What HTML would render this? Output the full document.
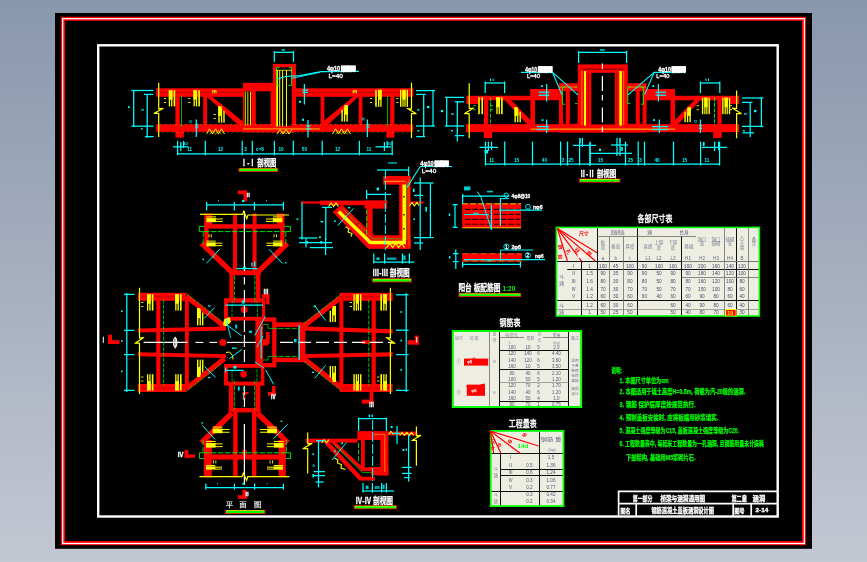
<!DOCTYPE html>
<html lang="zh"><head><meta charset="utf-8"><title>钢筋混凝土盖板涵洞设计图</title>
<style>
html,body{margin:0;padding:0;width:867px;height:562px;overflow:hidden;background:#a5afc1}
svg{display:block;will-change:transform;font-family:"Liberation Sans","Noto Sans CJK SC",sans-serif}
</style></head><body>
<svg width="867" height="562" viewBox="0 0 867 562">
<defs><linearGradient id="bg" x1="0" y1="0" x2="0" y2="1"><stop offset="0" stop-color="#8997ad"/><stop offset="1" stop-color="#c3c7d2"/></linearGradient></defs>
<rect x="0" y="0" width="867" height="562" fill="url(#bg)"/>
<rect x="55" y="13" width="757" height="535.8" fill="#000000"/>
<rect x="63" y="18.8" width="741.05" height="524.35" fill="none" stroke="#ff0000" stroke-width="4.1"/>
<rect x="62.7" y="18.7" width="741.7" height="524.8" fill="none" stroke="#ffffff" stroke-width="1.25"/>
<rect x="98.2" y="45.3" width="679.5" height="471.2" fill="none" stroke="#ffffff" stroke-width="2.4"/>
<g id="sec1">
<rect x="156.2" y="88.3" width="257.1" height="8.5" fill="#ff0000"/>
<rect x="156.2" y="124.4" width="257.1" height="7.4" fill="#ff0000"/>
<rect x="175.4" y="96" width="4.4" height="37" fill="#ff0000"/>
<rect x="175.4" y="131" width="8.4" height="6.6" fill="#ff0000"/>
<rect x="203.2" y="96" width="3.8" height="29" fill="#ff0000"/>
<rect x="358.6" y="96" width="3.8" height="29" fill="#ff0000"/>
<rect x="390.2" y="96" width="4.2" height="37" fill="#ff0000"/>
<rect x="386.4" y="131" width="8" height="6.6" fill="#ff0000"/>
<rect x="320.6" y="96" width="3.8" height="29" fill="#ff0000"/>
<polygon points="206.5,96.6 212,96.6 243,121.5 243,124.8 238,124.8" fill="#ff0000"/>
<polygon points="358.8,96.6 353.5,96.6 324,120.5 324,124.8 328,124.8" fill="#ff0000"/>
<line x1="157" y1="92.5" x2="243" y2="92.5" stroke="#000" stroke-width="0.8" opacity="0.28"/>
<line x1="296" y1="92.5" x2="413" y2="92.5" stroke="#000" stroke-width="0.8" opacity="0.28"/>
<rect x="243" y="82.8" width="30.5" height="49.6" fill="#ff0000"/>
<rect x="244.2" y="91.3" width="7.1" height="33" fill="#000"/>
<rect x="255.8" y="91.3" width="14.8" height="33" fill="#000"/>
<rect x="244.8" y="91.5" width="0.9" height="34" fill="#ffff00"/>
<rect x="247.4" y="91.5" width="0.9" height="34" fill="#ffff00"/>
<rect x="250" y="91.5" width="0.9" height="34" fill="#ffff00"/>
<rect x="273" y="64" width="23" height="68.4" fill="#ff0000"/>
<rect x="276" y="67.4" width="15.8" height="58.4" fill="#000"/>
<rect x="276.2" y="70.5" width="1.8" height="56" fill="#ffff00"/>
<rect x="279.2" y="70.5" width="1" height="56" fill="#ffff00"/>
<rect x="282.1" y="70.5" width="1" height="56" fill="#ffff00"/>
<rect x="286" y="70.5" width="1" height="56" fill="#ffff00"/>
<polyline points="279.5,67.6 276.6,67.6 276.6,85.5 279,85.5" fill="none" stroke="#00ff00" stroke-width="0.9"/>
<polyline points="289,67.6 291.6,67.6 291.6,85.5 288.5,85.5" fill="none" stroke="#00ff00" stroke-width="0.9"/>
<rect x="275.5" y="69.8" width="16.5" height="0.8" fill="#ffff00"/>
<rect x="243" y="128.2" width="77" height="1.4" fill="#ff8000"/>
<polyline points="206.5,134 209.5,128.8 212.5,134 215.5,128.8 218.5,134 221.5,128.8 224.5,134" fill="none" stroke="#ffff00" stroke-width="1"/>
<polyline points="209.5,134 212.5,131.14 215.5,134 218.5,131.14 221.5,134" fill="none" stroke="#ffff00" stroke-width="0.8" opacity="0.8"/>
<polyline points="332.5,134 335.5,128.8 338.5,134 341.5,128.8 344.5,134 347.5,128.8 350.5,134" fill="none" stroke="#ffff00" stroke-width="1"/>
<polyline points="335.5,134 338.5,131.14 341.5,134 344.5,131.14 347.5,134" fill="none" stroke="#ffff00" stroke-width="0.8" opacity="0.8"/>
<polyline points="277,134 280,129.4 283,134 286,129.4 289,134 292,129.4" fill="none" stroke="#ffff00" stroke-width="1"/>
<polyline points="280,134 283,131.47 286,134 289,131.47" fill="none" stroke="#ffff00" stroke-width="0.8" opacity="0.8"/>
<rect x="160" y="124.1" width="1.6" height="0.7" fill="#ffb000" opacity="0.55"/>
<rect x="162" y="132" width="1.6" height="0.7" fill="#ffb000" opacity="0.45"/>
<rect x="165" y="124.1" width="1.6" height="0.7" fill="#ffb000" opacity="0.55"/>
<rect x="167" y="132" width="1.6" height="0.7" fill="#ffb000" opacity="0.45"/>
<rect x="170" y="124.1" width="1.6" height="0.7" fill="#ffb000" opacity="0.55"/>
<rect x="172" y="132" width="1.6" height="0.7" fill="#ffb000" opacity="0.45"/>
<rect x="175" y="124.1" width="1.6" height="0.7" fill="#ffb000" opacity="0.55"/>
<rect x="177" y="132" width="1.6" height="0.7" fill="#ffb000" opacity="0.45"/>
<rect x="180" y="124.1" width="1.6" height="0.7" fill="#ffb000" opacity="0.55"/>
<rect x="182" y="132" width="1.6" height="0.7" fill="#ffb000" opacity="0.45"/>
<rect x="185" y="124.1" width="1.6" height="0.7" fill="#ffb000" opacity="0.55"/>
<rect x="187" y="132" width="1.6" height="0.7" fill="#ffb000" opacity="0.45"/>
<rect x="190" y="124.1" width="1.6" height="0.7" fill="#ffb000" opacity="0.55"/>
<rect x="192" y="132" width="1.6" height="0.7" fill="#ffb000" opacity="0.45"/>
<rect x="195" y="124.1" width="1.6" height="0.7" fill="#ffb000" opacity="0.55"/>
<rect x="197" y="132" width="1.6" height="0.7" fill="#ffb000" opacity="0.45"/>
<rect x="200" y="124.1" width="1.6" height="0.7" fill="#ffb000" opacity="0.55"/>
<rect x="202" y="132" width="1.6" height="0.7" fill="#ffb000" opacity="0.45"/>
<rect x="205" y="124.1" width="1.6" height="0.7" fill="#ffb000" opacity="0.55"/>
<rect x="207" y="132" width="1.6" height="0.7" fill="#ffb000" opacity="0.45"/>
<rect x="210" y="124.1" width="1.6" height="0.7" fill="#ffb000" opacity="0.55"/>
<rect x="212" y="132" width="1.6" height="0.7" fill="#ffb000" opacity="0.45"/>
<rect x="215" y="124.1" width="1.6" height="0.7" fill="#ffb000" opacity="0.55"/>
<rect x="217" y="132" width="1.6" height="0.7" fill="#ffb000" opacity="0.45"/>
<rect x="220" y="124.1" width="1.6" height="0.7" fill="#ffb000" opacity="0.55"/>
<rect x="222" y="132" width="1.6" height="0.7" fill="#ffb000" opacity="0.45"/>
<rect x="225" y="124.1" width="1.6" height="0.7" fill="#ffb000" opacity="0.55"/>
<rect x="227" y="132" width="1.6" height="0.7" fill="#ffb000" opacity="0.45"/>
<rect x="230" y="124.1" width="1.6" height="0.7" fill="#ffb000" opacity="0.55"/>
<rect x="232" y="132" width="1.6" height="0.7" fill="#ffb000" opacity="0.45"/>
<rect x="235" y="124.1" width="1.6" height="0.7" fill="#ffb000" opacity="0.55"/>
<rect x="237" y="132" width="1.6" height="0.7" fill="#ffb000" opacity="0.45"/>
<rect x="240" y="124.1" width="1.6" height="0.7" fill="#ffb000" opacity="0.55"/>
<rect x="242" y="132" width="1.6" height="0.7" fill="#ffb000" opacity="0.45"/>
<rect x="245" y="124.1" width="1.6" height="0.7" fill="#ffb000" opacity="0.55"/>
<rect x="247" y="132" width="1.6" height="0.7" fill="#ffb000" opacity="0.45"/>
<rect x="250" y="124.1" width="1.6" height="0.7" fill="#ffb000" opacity="0.55"/>
<rect x="252" y="132" width="1.6" height="0.7" fill="#ffb000" opacity="0.45"/>
<rect x="255" y="124.1" width="1.6" height="0.7" fill="#ffb000" opacity="0.55"/>
<rect x="257" y="132" width="1.6" height="0.7" fill="#ffb000" opacity="0.45"/>
<rect x="260" y="124.1" width="1.6" height="0.7" fill="#ffb000" opacity="0.55"/>
<rect x="262" y="132" width="1.6" height="0.7" fill="#ffb000" opacity="0.45"/>
<rect x="265" y="124.1" width="1.6" height="0.7" fill="#ffb000" opacity="0.55"/>
<rect x="267" y="132" width="1.6" height="0.7" fill="#ffb000" opacity="0.45"/>
<rect x="270" y="124.1" width="1.6" height="0.7" fill="#ffb000" opacity="0.55"/>
<rect x="272" y="132" width="1.6" height="0.7" fill="#ffb000" opacity="0.45"/>
<rect x="275" y="124.1" width="1.6" height="0.7" fill="#ffb000" opacity="0.55"/>
<rect x="277" y="132" width="1.6" height="0.7" fill="#ffb000" opacity="0.45"/>
<rect x="280" y="124.1" width="1.6" height="0.7" fill="#ffb000" opacity="0.55"/>
<rect x="282" y="132" width="1.6" height="0.7" fill="#ffb000" opacity="0.45"/>
<rect x="285" y="124.1" width="1.6" height="0.7" fill="#ffb000" opacity="0.55"/>
<rect x="287" y="132" width="1.6" height="0.7" fill="#ffb000" opacity="0.45"/>
<rect x="290" y="124.1" width="1.6" height="0.7" fill="#ffb000" opacity="0.55"/>
<rect x="292" y="132" width="1.6" height="0.7" fill="#ffb000" opacity="0.45"/>
<rect x="295" y="124.1" width="1.6" height="0.7" fill="#ffb000" opacity="0.55"/>
<rect x="297" y="132" width="1.6" height="0.7" fill="#ffb000" opacity="0.45"/>
<rect x="300" y="124.1" width="1.6" height="0.7" fill="#ffb000" opacity="0.55"/>
<rect x="302" y="132" width="1.6" height="0.7" fill="#ffb000" opacity="0.45"/>
<rect x="305" y="124.1" width="1.6" height="0.7" fill="#ffb000" opacity="0.55"/>
<rect x="307" y="132" width="1.6" height="0.7" fill="#ffb000" opacity="0.45"/>
<rect x="310" y="124.1" width="1.6" height="0.7" fill="#ffb000" opacity="0.55"/>
<rect x="312" y="132" width="1.6" height="0.7" fill="#ffb000" opacity="0.45"/>
<rect x="315" y="124.1" width="1.6" height="0.7" fill="#ffb000" opacity="0.55"/>
<rect x="317" y="132" width="1.6" height="0.7" fill="#ffb000" opacity="0.45"/>
<rect x="320" y="124.1" width="1.6" height="0.7" fill="#ffb000" opacity="0.55"/>
<rect x="322" y="132" width="1.6" height="0.7" fill="#ffb000" opacity="0.45"/>
<rect x="325" y="124.1" width="1.6" height="0.7" fill="#ffb000" opacity="0.55"/>
<rect x="327" y="132" width="1.6" height="0.7" fill="#ffb000" opacity="0.45"/>
<rect x="330" y="124.1" width="1.6" height="0.7" fill="#ffb000" opacity="0.55"/>
<rect x="332" y="132" width="1.6" height="0.7" fill="#ffb000" opacity="0.45"/>
<rect x="335" y="124.1" width="1.6" height="0.7" fill="#ffb000" opacity="0.55"/>
<rect x="337" y="132" width="1.6" height="0.7" fill="#ffb000" opacity="0.45"/>
<rect x="340" y="124.1" width="1.6" height="0.7" fill="#ffb000" opacity="0.55"/>
<rect x="342" y="132" width="1.6" height="0.7" fill="#ffb000" opacity="0.45"/>
<rect x="345" y="124.1" width="1.6" height="0.7" fill="#ffb000" opacity="0.55"/>
<rect x="347" y="132" width="1.6" height="0.7" fill="#ffb000" opacity="0.45"/>
<rect x="350" y="124.1" width="1.6" height="0.7" fill="#ffb000" opacity="0.55"/>
<rect x="352" y="132" width="1.6" height="0.7" fill="#ffb000" opacity="0.45"/>
<rect x="355" y="124.1" width="1.6" height="0.7" fill="#ffb000" opacity="0.55"/>
<rect x="357" y="132" width="1.6" height="0.7" fill="#ffb000" opacity="0.45"/>
<rect x="360" y="124.1" width="1.6" height="0.7" fill="#ffb000" opacity="0.55"/>
<rect x="362" y="132" width="1.6" height="0.7" fill="#ffb000" opacity="0.45"/>
<rect x="365" y="124.1" width="1.6" height="0.7" fill="#ffb000" opacity="0.55"/>
<rect x="367" y="132" width="1.6" height="0.7" fill="#ffb000" opacity="0.45"/>
<rect x="370" y="124.1" width="1.6" height="0.7" fill="#ffb000" opacity="0.55"/>
<rect x="372" y="132" width="1.6" height="0.7" fill="#ffb000" opacity="0.45"/>
<rect x="375" y="124.1" width="1.6" height="0.7" fill="#ffb000" opacity="0.55"/>
<rect x="377" y="132" width="1.6" height="0.7" fill="#ffb000" opacity="0.45"/>
<rect x="380" y="124.1" width="1.6" height="0.7" fill="#ffb000" opacity="0.55"/>
<rect x="382" y="132" width="1.6" height="0.7" fill="#ffb000" opacity="0.45"/>
<rect x="385" y="124.1" width="1.6" height="0.7" fill="#ffb000" opacity="0.55"/>
<rect x="387" y="132" width="1.6" height="0.7" fill="#ffb000" opacity="0.45"/>
<rect x="390" y="124.1" width="1.6" height="0.7" fill="#ffb000" opacity="0.55"/>
<rect x="392" y="132" width="1.6" height="0.7" fill="#ffb000" opacity="0.45"/>
<rect x="395" y="124.1" width="1.6" height="0.7" fill="#ffb000" opacity="0.55"/>
<rect x="397" y="132" width="1.6" height="0.7" fill="#ffb000" opacity="0.45"/>
<rect x="400" y="124.1" width="1.6" height="0.7" fill="#ffb000" opacity="0.55"/>
<rect x="402" y="132" width="1.6" height="0.7" fill="#ffb000" opacity="0.45"/>
<rect x="405" y="124.1" width="1.6" height="0.7" fill="#ffb000" opacity="0.55"/>
<rect x="407" y="132" width="1.6" height="0.7" fill="#ffb000" opacity="0.45"/>
<polyline points="158.7,82.8 158.7,108.9 163,108.4 154.19,113.3 158.7,113.3 158.7,137" fill="none" stroke="#ffff00" stroke-width="1.2" stroke-linejoin="round"/>
<polyline points="411.5,82.8 411.5,109.1 407.2,108.6 416.01,113.6 411.5,113.6 411.5,138" fill="none" stroke="#ffff00" stroke-width="1.2" stroke-linejoin="round"/>
<rect x="168.8" y="90.2" width="3.6" height="9.4" fill="#ffff00"/>
<rect x="168.8" y="90.2" width="1.3" height="16.2" fill="#ffff00"/>
<rect x="171.1" y="90.2" width="1.3" height="16.2" fill="#ffff00"/>
<rect x="173.6" y="90.2" width="1.6" height="16.2" fill="#ffff00"/>
<rect x="193.5" y="90.2" width="3.6" height="9.4" fill="#ffff00"/>
<rect x="193.5" y="90.2" width="1.3" height="16.2" fill="#ffff00"/>
<rect x="195.8" y="90.2" width="1.3" height="16.2" fill="#ffff00"/>
<rect x="198.3" y="90.2" width="1.6" height="16.2" fill="#ffff00"/>
<rect x="218.3" y="106.3" width="3.4" height="9.51" fill="#ffff00"/>
<rect x="218.3" y="106.3" width="1.4" height="16.4" fill="#ffff00"/>
<rect x="220.9" y="108.3" width="1.3" height="14.4" fill="#ffff00"/>
<rect x="223.3" y="110.9" width="1.4" height="11.8" fill="#ffff00"/>
<rect x="378" y="89.8" width="3.6" height="9.86" fill="#ffff00"/>
<rect x="380.3" y="89.8" width="1.3" height="17" fill="#ffff00"/>
<rect x="378" y="89.8" width="1.3" height="17" fill="#ffff00"/>
<rect x="375.2" y="89.8" width="1.6" height="17" fill="#ffff00"/>
<rect x="406.6" y="89.8" width="1.4" height="17" fill="#ffff00"/>
<rect x="402.4" y="89.8" width="3.2" height="9.86" fill="#ffff00"/>
<rect x="404.4" y="89.8" width="1.2" height="17" fill="#ffff00"/>
<rect x="402.4" y="89.8" width="1.2" height="17" fill="#ffff00"/>
<rect x="400" y="89.8" width="1.4" height="17" fill="#ffff00"/>
<rect x="344.4" y="105" width="3.4" height="9.63" fill="#ffff00"/>
<rect x="346.4" y="105" width="1.4" height="16.6" fill="#ffff00"/>
<rect x="343.9" y="107" width="1.3" height="14.6" fill="#ffff00"/>
<rect x="341.4" y="109.6" width="1.4" height="12" fill="#ffff00"/>
<rect x="164" y="98" width="2.2" height="0.9" fill="#ffff00"/>
<rect x="164" y="102" width="2.2" height="0.9" fill="#ffff00"/>
<rect x="188.2" y="98" width="2.2" height="0.9" fill="#ffff00"/>
<rect x="188.2" y="102" width="2.2" height="0.9" fill="#ffff00"/>
<rect x="213.5" y="114" width="2.2" height="0.9" fill="#ffff00"/>
<rect x="213.5" y="118" width="2.2" height="0.9" fill="#ffff00"/>
<rect x="370" y="98" width="2.2" height="0.9" fill="#ffff00"/>
<rect x="370" y="102" width="2.2" height="0.9" fill="#ffff00"/>
<rect x="396.2" y="98" width="2.2" height="0.9" fill="#ffff00"/>
<rect x="396.2" y="102" width="2.2" height="0.9" fill="#ffff00"/>
<rect x="212.3" y="90.3" width="4.1" height="1.1" fill="#ffff00"/>
<rect x="212.3" y="91" width="0.8" height="2.6" fill="#ffff00"/>
<rect x="214" y="91" width="0.8" height="2.2" fill="#ffff00"/>
<rect x="215.6" y="91" width="0.8" height="2.6" fill="#ffff00"/>
<rect x="352.7" y="90.3" width="4.3" height="1.1" fill="#ffff00"/>
<rect x="352.7" y="91" width="0.8" height="2.6" fill="#ffff00"/>
<rect x="354.5" y="91" width="0.8" height="2.2" fill="#ffff00"/>
<rect x="356.2" y="91" width="0.8" height="2.6" fill="#ffff00"/>
<line x1="181.5" y1="95.5" x2="181.5" y2="126.5" stroke="#00d000" stroke-width="0.9"/>
<line x1="387.6" y1="95.5" x2="387.6" y2="126.5" stroke="#00d000" stroke-width="0.9"/>
<line x1="133.7" y1="90.2" x2="133.7" y2="126.6" stroke="#00ffff" stroke-width="1.25"/>
<line x1="131.3" y1="90.5" x2="153.5" y2="90.5" stroke="#00ffff" stroke-width="1.25"/>
<line x1="131.3" y1="126.2" x2="153.5" y2="126.2" stroke="#00ffff" stroke-width="1.25"/>
<line x1="147.2" y1="94" x2="147.2" y2="138" stroke="#00ffff" stroke-width="1.25"/>
<line x1="144" y1="94.4" x2="153" y2="94.4" stroke="#00ffff" stroke-width="1.25"/>
<line x1="145" y1="136.6" x2="153.6" y2="136.6" stroke="#00ffff" stroke-width="1.25"/>
<rect x="128" y="106.2" width="1.8" height="1.8" fill="#00ffff"/>
<rect x="141.2" y="109.3" width="2.6" height="1.2" fill="#00ffff"/>
<rect x="141" y="128" width="1.6" height="1.4" fill="#00ffff"/>
<line x1="433" y1="90.2" x2="433" y2="126.6" stroke="#00ffff" stroke-width="1.25"/>
<line x1="416" y1="90.6" x2="435" y2="90.6" stroke="#00ffff" stroke-width="1.25"/>
<line x1="416" y1="126" x2="435" y2="126" stroke="#00ffff" stroke-width="1.25"/>
<line x1="423.7" y1="94" x2="423.7" y2="136.8" stroke="#00ffff" stroke-width="1.25"/>
<line x1="416.2" y1="94.4" x2="425.6" y2="94.4" stroke="#00ffff" stroke-width="1.25"/>
<line x1="416.2" y1="136.6" x2="425" y2="136.6" stroke="#00ffff" stroke-width="1.25"/>
<rect x="427" y="106" width="2.4" height="2.2" fill="#00ffff"/>
<rect x="417" y="109.3" width="2.6" height="1.2" fill="#00ffff"/>
<rect x="417.5" y="130" width="1.8" height="1.4" fill="#00ffff"/>
<line x1="274.3" y1="51" x2="274.3" y2="62" stroke="#00ffff" stroke-width="1.25"/>
<line x1="293.5" y1="51" x2="293.5" y2="62" stroke="#00ffff" stroke-width="1.25"/>
<line x1="274.3" y1="52.3" x2="293.5" y2="52.3" stroke="#00ffff" stroke-width="1.25"/>
<rect x="281.8" y="49.3" width="3" height="1.3" fill="#00ffff"/>
<line x1="177.4" y1="153.8" x2="392.6" y2="153.8" stroke="#00ffff" stroke-width="1.25"/>
<line x1="177.6" y1="140.8" x2="177.6" y2="155.3" stroke="#00ffff" stroke-width="1.25"/>
<line x1="205.3" y1="140.8" x2="205.3" y2="155.3" stroke="#00ffff" stroke-width="1.25"/>
<line x1="242.2" y1="140.8" x2="242.2" y2="155.3" stroke="#00ffff" stroke-width="1.25"/>
<line x1="252.3" y1="140.8" x2="252.3" y2="155.3" stroke="#00ffff" stroke-width="1.25"/>
<line x1="274.4" y1="140.8" x2="274.4" y2="155.3" stroke="#00ffff" stroke-width="1.25"/>
<line x1="293.3" y1="140.8" x2="293.3" y2="155.3" stroke="#00ffff" stroke-width="1.25"/>
<line x1="322.2" y1="140.8" x2="322.2" y2="155.3" stroke="#00ffff" stroke-width="1.25"/>
<line x1="359.4" y1="140.8" x2="359.4" y2="155.3" stroke="#00ffff" stroke-width="1.25"/>
<line x1="392.2" y1="140.8" x2="392.2" y2="155.3" stroke="#00ffff" stroke-width="1.25"/>
<line x1="173" y1="146.8" x2="188.5" y2="146.8" stroke="#00ffff" stroke-width="1.25"/>
<line x1="180.8" y1="142" x2="180.8" y2="151" stroke="#00ffff" stroke-width="1.25"/>
<line x1="183.6" y1="141" x2="183.6" y2="148" stroke="#00ffff" stroke-width="1.25"/>
<line x1="375.5" y1="146.8" x2="391" y2="146.8" stroke="#00ffff" stroke-width="1.25"/>
<line x1="384.4" y1="142" x2="384.4" y2="151" stroke="#00ffff" stroke-width="1.25"/>
<line x1="387.2" y1="141" x2="387.2" y2="148" stroke="#00ffff" stroke-width="1.25"/>
<text x="189.6" y="151.4" font-size="4.6" fill="#00ffff" text-anchor="middle" font-weight="bold">11</text>
<text x="220.6" y="151.4" font-size="4.6" fill="#00ffff" text-anchor="middle" font-weight="bold">12</text>
<text x="245.6" y="151.4" font-size="4.6" fill="#00ffff" text-anchor="middle" font-weight="bold">3</text>
<text x="260" y="151.4" font-size="4.6" fill="#00ffff" text-anchor="middle" font-weight="bold">c=8</text>
<text x="281" y="151.4" font-size="4.6" fill="#00ffff" text-anchor="middle" font-weight="bold">10</text>
<text x="304.4" y="151.4" font-size="4.6" fill="#00ffff" text-anchor="middle" font-weight="bold">50</text>
<text x="337.6" y="151.4" font-size="4.6" fill="#00ffff" text-anchor="middle" font-weight="bold">12</text>
<text x="369" y="151.4" font-size="4.6" fill="#00ffff" text-anchor="middle" font-weight="bold">11</text>
<text x="185.6" y="145" font-size="4.2" fill="#00ffff" text-anchor="middle" font-weight="bold">10</text>
<text x="389.4" y="145" font-size="4.2" fill="#00ffff" text-anchor="middle" font-weight="bold">10</text>
<line x1="196.3" y1="119.5" x2="196.3" y2="137" stroke="#00ffff" stroke-width="1.25"/>
<line x1="195.4" y1="124.6" x2="198.2" y2="124.6" stroke="#00ffff" stroke-width="1.25"/>
<line x1="195.4" y1="127" x2="198.2" y2="127" stroke="#00ffff" stroke-width="1.25"/>
<circle cx="190.5" cy="121.6" r="1.1" fill="none" stroke="#00ffff" stroke-width="0.7"/>
<line x1="304.4" y1="84" x2="304.4" y2="104.5" stroke="#00ffff" stroke-width="1.25"/>
<line x1="302.5" y1="90" x2="308" y2="90" stroke="#00ffff" stroke-width="1.25"/>
<line x1="302.5" y1="92.4" x2="308" y2="92.4" stroke="#00ffff" stroke-width="1.25"/>
<rect x="299" y="100.8" width="2" height="2" fill="#00ffff"/>
<line x1="308" y1="120" x2="308" y2="137.5" stroke="#00ffff" stroke-width="1.25"/>
<line x1="306.5" y1="126" x2="310.5" y2="126" stroke="#00ffff" stroke-width="1.25"/>
<line x1="306.5" y1="129" x2="310.5" y2="129" stroke="#00ffff" stroke-width="1.25"/>
<rect x="302" y="118.8" width="2" height="2" fill="#00ffff"/>
<line x1="367.4" y1="119.5" x2="367.4" y2="137" stroke="#00ffff" stroke-width="1.25"/>
<line x1="366.5" y1="124.6" x2="369.3" y2="124.6" stroke="#00ffff" stroke-width="1.25"/>
<line x1="366.5" y1="127" x2="369.3" y2="127" stroke="#00ffff" stroke-width="1.25"/>
<circle cx="363.2" cy="119" r="1.1" fill="none" stroke="#00ffff" stroke-width="0.7"/>
<polyline points="276.8,79.2 285.5,76.5 300,75.6 321,71.6 359,71.4" fill="none" stroke="#00ffff" stroke-width="1.1"/>
<polyline points="291.8,78.4 300,76.6 320,72.4" fill="none" stroke="#00ffff" stroke-width="0.9"/>
<text x="326.9" y="71.1" font-size="6.4" fill="#ffffff" textLength="13.3" lengthAdjust="spacingAndGlyphs" font-weight="bold" stroke="#fff" stroke-width="0.3">4φ10</text>
<rect x="340.8" y="65.5" width="15" height="6.3" fill="#ffffff" opacity="0.93"/>
<text x="341" y="71.1" font-size="5.4" fill="#ffffff" textLength="14.6" lengthAdjust="spacingAndGlyphs" font-weight="bold" stroke="#fff" stroke-width="0.3">钢筋网</text>
<text x="328.5" y="77.9" font-size="6.2" fill="#ffffff" textLength="14.4" lengthAdjust="spacingAndGlyphs" stroke="#fff" stroke-width="0.3">L=40</text>
<text x="240.8" y="166.4" font-size="9" fill="#ffffff" textLength="35.6" lengthAdjust="spacingAndGlyphs" font-weight="bold" stroke="#fff" stroke-width="0.3">Ⅰ-Ⅰ 剖视图</text>
<rect x="238.4" y="168.3" width="39.8" height="3.7" fill="#ff0000"/>
<rect x="239.4" y="168.9" width="38" height="2.3" fill="#00ff00"/>
<rect x="239.4" y="168.6" width="38" height="0.6" fill="#ffff00"/>
</g>
<g id="sec2">
<rect x="466.3" y="95.8" width="272.7" height="4.5" fill="#ff0000"/>
<rect x="466.3" y="100" width="12.1" height="4" fill="#ff0000"/>
<rect x="729" y="100" width="10" height="4" fill="#ff0000"/>
<rect x="466" y="124.2" width="273" height="8" fill="#ff0000"/>
<rect x="530.2" y="89" width="144.8" height="8" fill="#ff0000"/>
<rect x="484" y="100" width="4.3" height="33" fill="#ff0000"/>
<rect x="484" y="132" width="8" height="6" fill="#ff0000"/>
<rect x="530.4" y="96" width="4.6" height="29" fill="#ff0000"/>
<rect x="670.4" y="96" width="4.6" height="29" fill="#ff0000"/>
<rect x="717.4" y="100" width="4.2" height="33" fill="#ff0000"/>
<rect x="713.2" y="132" width="8.4" height="6" fill="#ff0000"/>
<polygon points="502.6,97.6 503.4,96 507,96 531,120.4 531,124.8 527.6,124.8" fill="#ff0000"/>
<polygon points="702.7,97.6 701.9,96 698.3,96 674.3,120.4 674.3,124.8 677.7,124.8" fill="#ff0000"/>
<rect x="559" y="83.2" width="19" height="49.4" fill="#ff0000"/>
<rect x="627.6" y="83.2" width="19" height="49.4" fill="#ff0000"/>
<rect x="563" y="91" width="2.8" height="32.8" fill="#000"/>
<rect x="569.8" y="91" width="7.8" height="32.8" fill="#000"/>
<rect x="639.8" y="91" width="2.8" height="32.8" fill="#000"/>
<rect x="628" y="91" width="7.8" height="32.8" fill="#000"/>
<rect x="559.5" y="86.6" width="17.5" height="1" fill="#ff8000"/>
<rect x="628.5" y="86.6" width="17.5" height="1" fill="#ff8000"/>
<rect x="577.8" y="64.4" width="50" height="68.2" fill="#ff0000"/>
<rect x="591.3" y="72.8" width="23.6" height="51.6" fill="#000"/>
<rect x="582" y="68.6" width="41.4" height="1" fill="#000" opacity="0.55"/>
<rect x="581.4" y="71" width="1" height="54" fill="#ff8000"/>
<rect x="623.2" y="71" width="1" height="54" fill="#ff8000"/>
<rect x="584" y="71" width="2" height="54.6" fill="#ffff00"/>
<rect x="619.3" y="71" width="2.6" height="54.6" fill="#ffff00"/>
<rect x="588.3" y="73" width="0.7" height="51" fill="#000" opacity="0.4"/>
<rect x="616.6" y="73" width="0.7" height="51" fill="#000" opacity="0.4"/>
<rect x="530.5" y="128.4" width="144.5" height="1.6" fill="#ff8000"/>
<line x1="602.4" y1="63.4" x2="602.4" y2="132" stroke="#ffffff" stroke-width="1.2" stroke-dasharray="5.6 7 15 4"/>
<polyline points="565.6,86.8 562.4,86.8 562.4,104.2 565,104.2" fill="none" stroke="#00ff00" stroke-width="0.9"/>
<polyline points="575,86.8 577.4,86.8" fill="none" stroke="#00ff00" stroke-width="0.9"/>
<polyline points="575,103.6 577.6,103.6" fill="none" stroke="#00ff00" stroke-width="0.9"/>
<polyline points="639.8,86.8 643.4,86.8 643.4,104.2 640.8,104.2" fill="none" stroke="#00ff00" stroke-width="0.9"/>
<polyline points="630.6,86.8 627.8,86.8 627.8,103.6 630.4,103.6" fill="none" stroke="#00ff00" stroke-width="0.9"/>
<line x1="490.4" y1="97.5" x2="490.4" y2="125.5" stroke="#00ff00" stroke-width="0.9" stroke-dasharray="4 1.4"/>
<line x1="714.5" y1="97.5" x2="714.5" y2="125.5" stroke="#00ff00" stroke-width="0.9" stroke-dasharray="4 1.4"/>
<polyline points="469.2,83.2 469.2,108.5 473.5,108 464.69,113.6 469.2,113.6 469.2,138.2" fill="none" stroke="#ffff00" stroke-width="1.2" stroke-linejoin="round"/>
<polyline points="736.6,90.6 736.6,108.5 732.3,108 741.12,113.6 736.6,113.6 736.6,138.2" fill="none" stroke="#ffff00" stroke-width="1.2" stroke-linejoin="round"/>
<rect x="478.2" y="97.2" width="1.6" height="17" fill="#ffff00"/>
<rect x="481.4" y="97.2" width="1.6" height="17" fill="#ffff00"/>
<rect x="496.3" y="97.2" width="3.6" height="9.86" fill="#ffff00"/>
<rect x="496.3" y="97.2" width="1.3" height="17" fill="#ffff00"/>
<rect x="498.6" y="97.2" width="1.3" height="17" fill="#ffff00"/>
<rect x="501.1" y="97.2" width="1.6" height="17" fill="#ffff00"/>
<rect x="514.5" y="107.2" width="3.4" height="8.7" fill="#ffff00"/>
<rect x="514.5" y="107.2" width="1.4" height="15" fill="#ffff00"/>
<rect x="517.1" y="109.2" width="1.3" height="13" fill="#ffff00"/>
<rect x="519.5" y="111.8" width="1.4" height="10.4" fill="#ffff00"/>
<rect x="708.5" y="97.6" width="1.4" height="16.6" fill="#ffff00"/>
<rect x="704.3" y="97.6" width="3.2" height="9.63" fill="#ffff00"/>
<rect x="706.3" y="97.6" width="1.2" height="16.6" fill="#ffff00"/>
<rect x="704.3" y="97.6" width="1.2" height="16.6" fill="#ffff00"/>
<rect x="701.9" y="97.6" width="1.4" height="16.6" fill="#ffff00"/>
<rect x="728.8" y="97.6" width="1.4" height="16.6" fill="#ffff00"/>
<rect x="724.6" y="97.6" width="3.2" height="9.63" fill="#ffff00"/>
<rect x="726.6" y="97.6" width="1.2" height="16.6" fill="#ffff00"/>
<rect x="724.6" y="97.6" width="1.2" height="16.6" fill="#ffff00"/>
<rect x="722.2" y="97.6" width="1.4" height="16.6" fill="#ffff00"/>
<rect x="687.4" y="107.2" width="3.4" height="8.7" fill="#ffff00"/>
<rect x="689.4" y="107.2" width="1.4" height="15" fill="#ffff00"/>
<rect x="686.9" y="109.2" width="1.3" height="13" fill="#ffff00"/>
<rect x="684.4" y="111.8" width="1.4" height="10.4" fill="#ffff00"/>
<rect x="490.6" y="105.3" width="2.4" height="0.9" fill="#00ff00"/>
<rect x="490.6" y="109.3" width="2.4" height="0.9" fill="#00ff00"/>
<rect x="696.6" y="105.3" width="2.4" height="0.9" fill="#ffff00"/>
<rect x="696.6" y="109.3" width="2.4" height="0.9" fill="#ffff00"/>
<rect x="729.6" y="105.3" width="2.4" height="0.9" fill="#ffff00"/>
<rect x="729.6" y="109.3" width="2.4" height="0.9" fill="#ffff00"/>
<rect x="473.4" y="105.3" width="2.4" height="0.9" fill="#00ff00"/>
<rect x="473.4" y="109.3" width="2.4" height="0.9" fill="#00ff00"/>
<line x1="446.7" y1="97.4" x2="446.7" y2="126.4" stroke="#00ffff" stroke-width="1.25"/>
<line x1="444.8" y1="97.4" x2="464.2" y2="97.4" stroke="#00ffff" stroke-width="1.25"/>
<line x1="444.8" y1="126" x2="464.2" y2="126" stroke="#00ffff" stroke-width="1.25"/>
<line x1="457.3" y1="101.8" x2="457.3" y2="141.6" stroke="#00ffff" stroke-width="1.25"/>
<line x1="454.8" y1="101.8" x2="464.2" y2="101.8" stroke="#00ffff" stroke-width="1.25"/>
<rect x="441" y="110" width="2.2" height="2.2" fill="#00ffff"/>
<rect x="451" y="113.4" width="2.8" height="1.2" fill="#00ffff"/>
<rect x="451" y="130" width="1.8" height="1.4" fill="#00ffff"/>
<line x1="454.8" y1="135.6" x2="464.2" y2="135.6" stroke="#00ffff" stroke-width="1.25"/>
<line x1="761.4" y1="97.5" x2="761.4" y2="127" stroke="#00ffff" stroke-width="1.25"/>
<line x1="742" y1="98" x2="763.4" y2="98" stroke="#00ffff" stroke-width="1.25"/>
<line x1="742" y1="126.4" x2="763.4" y2="126.4" stroke="#00ffff" stroke-width="1.25"/>
<line x1="750.2" y1="102" x2="750.2" y2="137" stroke="#00ffff" stroke-width="1.25"/>
<line x1="742" y1="102.4" x2="752.5" y2="102.4" stroke="#00ffff" stroke-width="1.25"/>
<rect x="754" y="110" width="2.4" height="2.2" fill="#00ffff"/>
<rect x="744" y="113.4" width="2.8" height="1.2" fill="#00ffff"/>
<rect x="743" y="130" width="1.8" height="1.4" fill="#00ffff"/>
<line x1="742.5" y1="132.8" x2="754" y2="132.8" stroke="#00ffff" stroke-width="1.25"/>
<line x1="485.2" y1="81.5" x2="485.2" y2="93" stroke="#00ffff" stroke-width="1.25"/>
<line x1="504.6" y1="81.5" x2="504.6" y2="93" stroke="#00ffff" stroke-width="1.25"/>
<line x1="485.2" y1="83" x2="504.6" y2="83" stroke="#00ffff" stroke-width="1.25"/>
<rect x="490" y="78.6" width="1" height="2.4" fill="#00ffff"/>
<rect x="492.6" y="78.6" width="1" height="2.4" fill="#00ffff"/>
<line x1="700.4" y1="81.5" x2="700.4" y2="93" stroke="#00ffff" stroke-width="1.25"/>
<line x1="719.8" y1="81.5" x2="719.8" y2="93" stroke="#00ffff" stroke-width="1.25"/>
<line x1="700.4" y1="83" x2="719.8" y2="83" stroke="#00ffff" stroke-width="1.25"/>
<rect x="705.4" y="78.6" width="1" height="2.4" fill="#00ffff"/>
<rect x="708" y="78.6" width="1" height="2.4" fill="#00ffff"/>
<line x1="578.6" y1="51" x2="578.6" y2="63" stroke="#00ffff" stroke-width="1.25"/>
<line x1="626.6" y1="51" x2="626.6" y2="63" stroke="#00ffff" stroke-width="1.25"/>
<line x1="578.6" y1="52.3" x2="626.6" y2="52.3" stroke="#00ffff" stroke-width="1.25"/>
<rect x="600" y="49.3" width="4.6" height="1.3" fill="#00ffff"/>
<line x1="546.6" y1="84" x2="546.6" y2="101.5" stroke="#00ffff" stroke-width="1.25"/>
<line x1="538.6" y1="92.2" x2="549.2" y2="92.2" stroke="#00ffff" stroke-width="1.25"/>
<line x1="538.6" y1="95.2" x2="549.2" y2="95.2" stroke="#00ffff" stroke-width="1.25"/>
<line x1="658.4" y1="84" x2="658.4" y2="101.5" stroke="#00ffff" stroke-width="1.25"/>
<line x1="655.6" y1="92.2" x2="666" y2="92.2" stroke="#00ffff" stroke-width="1.25"/>
<line x1="655.6" y1="95.2" x2="666" y2="95.2" stroke="#00ffff" stroke-width="1.25"/>
<line x1="546.6" y1="119.5" x2="546.6" y2="133" stroke="#00ffff" stroke-width="1.25"/>
<line x1="537" y1="126.6" x2="549" y2="126.6" stroke="#00ffff" stroke-width="1.25"/>
<line x1="537" y1="129.6" x2="549" y2="129.6" stroke="#00ffff" stroke-width="1.25"/>
<line x1="659.4" y1="119.5" x2="659.4" y2="133" stroke="#00ffff" stroke-width="1.25"/>
<line x1="652" y1="126.6" x2="668" y2="126.6" stroke="#00ffff" stroke-width="1.25"/>
<line x1="652" y1="129.6" x2="668" y2="129.6" stroke="#00ffff" stroke-width="1.25"/>
<rect x="541.2" y="85.2" width="1.8" height="1.8" fill="#00ffff"/>
<rect x="541.6" y="119.2" width="1.8" height="1.8" fill="#00ffff"/>
<rect x="652.4" y="85.2" width="1.8" height="1.8" fill="#00ffff"/>
<rect x="653.2" y="119.2" width="1.8" height="1.8" fill="#00ffff"/>
<line x1="700.4" y1="119.5" x2="700.4" y2="133" stroke="#00ffff" stroke-width="1.25"/>
<line x1="699" y1="125.6" x2="702" y2="125.6" stroke="#00ffff" stroke-width="1.25"/>
<line x1="699" y1="128.4" x2="702" y2="128.4" stroke="#00ffff" stroke-width="1.25"/>
<circle cx="695.6" cy="121.4" r="1.1" fill="none" stroke="#00ffff" stroke-width="0.7"/>
<polyline points="521,72.4 552.6,72.4 561.8,94.6" fill="none" stroke="#00ffff" stroke-width="1.1"/>
<line x1="552.6" y1="72.4" x2="578" y2="94.8" stroke="#00ffff" stroke-width="1.1"/>
<polyline points="685,72.4 654.2,72.4 644.6,94.6" fill="none" stroke="#00ffff" stroke-width="1.1"/>
<line x1="654.2" y1="72.4" x2="628" y2="94.8" stroke="#00ffff" stroke-width="1.1"/>
<text x="525.3" y="71.6" font-size="6.4" fill="#ffffff" textLength="11.8" lengthAdjust="spacingAndGlyphs" font-weight="bold" stroke="#fff" stroke-width="0.3">4φ10</text>
<rect x="537.7" y="66" width="15" height="6.3" fill="#ffffff" opacity="0.93"/>
<text x="537.9" y="71.6" font-size="5.4" fill="#ffffff" textLength="14.6" lengthAdjust="spacingAndGlyphs" font-weight="bold" stroke="#fff" stroke-width="0.3">钢筋网</text>
<text x="526.9" y="78.4" font-size="6.2" fill="#ffffff" textLength="13.2" lengthAdjust="spacingAndGlyphs" stroke="#fff" stroke-width="0.3">L=40</text>
<text x="658.3" y="71.6" font-size="6.4" fill="#ffffff" textLength="12.5" lengthAdjust="spacingAndGlyphs" font-weight="bold" stroke="#fff" stroke-width="0.3">4φ10</text>
<rect x="671.4" y="66" width="14.6" height="6.3" fill="#ffffff" opacity="0.93"/>
<text x="671.6" y="71.6" font-size="5.4" fill="#ffffff" textLength="14.2" lengthAdjust="spacingAndGlyphs" font-weight="bold" stroke="#fff" stroke-width="0.3">钢筋网</text>
<text x="656.3" y="78.4" font-size="6.2" fill="#ffffff" textLength="13.2" lengthAdjust="spacingAndGlyphs" stroke="#fff" stroke-width="0.3">L=40</text>
<line x1="485.5" y1="164" x2="719.6" y2="164" stroke="#00ffff" stroke-width="1.25"/>
<line x1="485.5" y1="141.6" x2="485.5" y2="165.6" stroke="#00ffff" stroke-width="1.25"/>
<line x1="504.7" y1="141.6" x2="504.7" y2="165.6" stroke="#00ffff" stroke-width="1.25"/>
<line x1="532.5" y1="141.6" x2="532.5" y2="165.6" stroke="#00ffff" stroke-width="1.25"/>
<line x1="560.6" y1="141.6" x2="560.6" y2="165.6" stroke="#00ffff" stroke-width="1.25"/>
<line x1="567.5" y1="141.6" x2="567.5" y2="165.6" stroke="#00ffff" stroke-width="1.25"/>
<line x1="579.6" y1="141.6" x2="579.6" y2="165.6" stroke="#00ffff" stroke-width="1.25"/>
<line x1="590" y1="141.6" x2="590" y2="165.6" stroke="#00ffff" stroke-width="1.25"/>
<line x1="625.5" y1="141.6" x2="625.5" y2="165.6" stroke="#00ffff" stroke-width="1.25"/>
<line x1="638.2" y1="141.6" x2="638.2" y2="165.6" stroke="#00ffff" stroke-width="1.25"/>
<line x1="644.5" y1="141.6" x2="644.5" y2="165.6" stroke="#00ffff" stroke-width="1.25"/>
<line x1="673.5" y1="141.6" x2="673.5" y2="165.6" stroke="#00ffff" stroke-width="1.25"/>
<line x1="700.6" y1="141.6" x2="700.6" y2="165.6" stroke="#00ffff" stroke-width="1.25"/>
<line x1="719.6" y1="141.6" x2="719.6" y2="165.6" stroke="#00ffff" stroke-width="1.25"/>
<line x1="590" y1="153.4" x2="632" y2="153.4" stroke="#00ffff" stroke-width="1.25"/>
<line x1="590" y1="143" x2="590" y2="166" stroke="#00ffff" stroke-width="1.25"/>
<line x1="620" y1="143" x2="620" y2="156" stroke="#00ffff" stroke-width="1.25"/>
<line x1="479.5" y1="147.4" x2="498" y2="147.4" stroke="#00ffff" stroke-width="1.25"/>
<line x1="488.4" y1="141.6" x2="488.4" y2="151" stroke="#00ffff" stroke-width="1.25"/>
<line x1="491.6" y1="141.6" x2="491.6" y2="150" stroke="#00ffff" stroke-width="1.25"/>
<line x1="702" y1="147.4" x2="727" y2="147.4" stroke="#00ffff" stroke-width="1.25"/>
<line x1="714.6" y1="141.6" x2="714.6" y2="151" stroke="#00ffff" stroke-width="1.25"/>
<line x1="718.6" y1="141.6" x2="718.6" y2="150" stroke="#00ffff" stroke-width="1.25"/>
<line x1="573" y1="145.4" x2="596" y2="145.4" stroke="#00ffff" stroke-width="1.25"/>
<line x1="582.4" y1="138" x2="582.4" y2="147" stroke="#00ffff" stroke-width="1.25"/>
<line x1="611" y1="145" x2="628" y2="145" stroke="#00ffff" stroke-width="1.25"/>
<line x1="617" y1="138" x2="617" y2="156" stroke="#00ffff" stroke-width="1.25"/>
<text x="491.6" y="161.6" font-size="4.6" fill="#00ffff" text-anchor="middle" font-weight="bold">11</text>
<text x="516.6" y="161.6" font-size="4.6" fill="#00ffff" text-anchor="middle" font-weight="bold">15</text>
<text x="544.4" y="161.6" font-size="4.6" fill="#00ffff" text-anchor="middle" font-weight="bold">40</text>
<text x="563" y="161.6" font-size="4.6" fill="#00ffff" text-anchor="middle" font-weight="bold">3</text>
<text x="571" y="161.6" font-size="4.6" fill="#00ffff" text-anchor="middle" font-weight="bold">25</text>
<text x="600.6" y="161.6" font-size="4.6" fill="#00ffff" text-anchor="middle" font-weight="bold">15</text>
<text x="630.6" y="161.6" font-size="4.6" fill="#00ffff" text-anchor="middle" font-weight="bold">25</text>
<text x="640.6" y="161.6" font-size="4.6" fill="#00ffff" text-anchor="middle" font-weight="bold">3</text>
<text x="657" y="161.6" font-size="4.6" fill="#00ffff" text-anchor="middle" font-weight="bold">40</text>
<text x="684.6" y="161.6" font-size="4.6" fill="#00ffff" text-anchor="middle" font-weight="bold">15</text>
<text x="707" y="161.6" font-size="4.6" fill="#00ffff" text-anchor="middle" font-weight="bold">11</text>
<rect x="484.6" y="150" width="3.4" height="3.4" fill="#00ffff"/>
<rect x="599" y="148.6" width="2" height="2.4" fill="#00ffff"/>
<rect x="579" y="138" width="2" height="5" fill="#00ffff" opacity="0.8"/>
<rect x="619" y="138" width="2" height="5" fill="#00ffff" opacity="0.8"/>
<rect x="620.6" y="147" width="2.4" height="4" fill="#00ffff" opacity="0.8"/>
<rect x="703" y="142" width="1.6" height="4" fill="#00ffff"/>
<text x="579.6" y="176.6" font-size="9" fill="#ffffff" textLength="36.6" lengthAdjust="spacingAndGlyphs" font-weight="bold" stroke="#fff" stroke-width="0.3">Ⅱ-Ⅱ 剖视图</text>
<rect x="579" y="178.6" width="41.4" height="4" fill="#ff0000"/>
<rect x="580" y="179.2" width="39.4" height="2.6" fill="#00ff00"/>
<rect x="580" y="179" width="39.4" height="0.6" fill="#ffff00"/>
</g>
<g id="plan">
<rect x="204.3" y="213.5" width="7.7" height="11.5" fill="#ff0000"/>
<rect x="204.3" y="224" width="4.3" height="21.5" fill="#ff0000"/>
<rect x="276.8" y="213.5" width="7.7" height="11.5" fill="#ff0000"/>
<rect x="280.2" y="224" width="4.3" height="21.5" fill="#ff0000"/>
<rect x="204.3" y="224.2" width="80.2" height="4.4" fill="#ff0000"/>
<rect x="233" y="213.5" width="4" height="57.5" fill="#ff0000"/>
<rect x="252.6" y="213.5" width="4" height="57.5" fill="#ff0000"/>
<polygon points="199.74,245.35 230.14,274.35 233.86,270.45 203.46,241.45" fill="#ff0000"/>
<polygon points="285.52,241.46 255.52,270.46 259.28,274.34 289.28,245.34" fill="#ff0000"/>
<rect x="229.4" y="270.2" width="31.2" height="5" fill="#ff0000"/>
<rect x="229.4" y="270.2" width="4.2" height="28.8" fill="#ff0000"/>
<rect x="255.8" y="270.2" width="4.6" height="28.8" fill="#ff0000"/>
<rect x="224" y="298.2" width="41" height="22.4" fill="#ff0000"/>
<rect x="227.9" y="302.6" width="34.1" height="14.2" fill="#000"/>
<rect x="224" y="364" width="40.4" height="21.6" fill="#ff0000"/>
<rect x="227.9" y="367.8" width="33.1" height="13.8" fill="#000"/>
<rect x="255.4" y="320" width="4" height="44.4" fill="#ff0000"/>
<rect x="258.8" y="317.4" width="17.6" height="50" fill="#ff0000"/>
<rect x="263" y="321.6" width="9.2" height="41.4" fill="#000"/>
<rect x="276" y="322.4" width="25" height="4.6" fill="#ff0000"/>
<rect x="276" y="357.6" width="25" height="4.6" fill="#ff0000"/>
<rect x="298" y="322.4" width="7.4" height="39.8" fill="#ff0000"/>
<polygon points="303.56,329.61 343.26,298.81 340.14,294.79 300.44,325.59" fill="#ff0000"/>
<polygon points="300.44,359.21 340.14,390.01 343.26,385.99 303.56,355.19" fill="#ff0000"/>
<rect x="339.8" y="292.8" width="52.8" height="8" fill="#ff0000"/>
<rect x="339.8" y="384" width="52.8" height="8" fill="#ff0000"/>
<rect x="339.4" y="296" width="4" height="93" fill="#ff0000"/>
<rect x="371.6" y="296" width="4.2" height="93" fill="#ff0000"/>
<polygon points="301,326.2 392.6,329.2 392.6,333.4 301,330.4" fill="#ff0000"/>
<polygon points="301,354.2 392.6,352.2 392.6,356.4 301,358" fill="#ff0000"/>
<rect x="362" y="340.4" width="8" height="3.6" fill="#ff0000"/>
<rect x="137.8" y="292.8" width="48.6" height="8" fill="#ff0000"/>
<rect x="137.8" y="384" width="48.6" height="8" fill="#ff0000"/>
<rect x="156.3" y="296" width="4.1" height="93" fill="#ff0000"/>
<rect x="185" y="296" width="3.8" height="93" fill="#ff0000"/>
<polygon points="184.82,298.2 223.02,328.4 226.18,324.4 187.98,294.2" fill="#ff0000"/>
<polygon points="187.98,390.6 226.18,360.4 223.02,356.4 184.82,386.6" fill="#ff0000"/>
<polygon points="137.8,328.6 226,326.6 226,330.6 137.8,332.6" fill="#ff0000"/>
<polygon points="137.8,352.2 226,354.2 226,358 137.8,356.2" fill="#ff0000"/>
<line x1="138.5" y1="296.8" x2="186" y2="296.8" stroke="#000" stroke-width="0.8" opacity="0.28"/>
<line x1="138.5" y1="388" x2="186" y2="388" stroke="#000" stroke-width="0.8" opacity="0.28"/>
<line x1="340.5" y1="296.8" x2="392" y2="296.8" stroke="#000" stroke-width="0.8" opacity="0.28"/>
<line x1="340.5" y1="388" x2="392" y2="388" stroke="#000" stroke-width="0.8" opacity="0.28"/>
<rect x="228.8" y="385" width="4.6" height="26" fill="#ff0000"/>
<rect x="255.4" y="385" width="5" height="26" fill="#ff0000"/>
<rect x="228.8" y="408" width="31.6" height="4.4" fill="#ff0000"/>
<polygon points="230.12,411.06 199.52,440.66 203.28,444.54 233.88,414.94" fill="#ff0000"/>
<polygon points="255.32,414.94 285.92,444.54 289.68,440.66 259.08,411.06" fill="#ff0000"/>
<rect x="203.8" y="440" width="8" height="37.4" fill="#ff0000"/>
<rect x="278.6" y="440" width="7.2" height="37.4" fill="#ff0000"/>
<rect x="233.2" y="410" width="4.4" height="67.4" fill="#ff0000"/>
<rect x="252" y="410" width="4.4" height="67.4" fill="#ff0000"/>
<rect x="203.8" y="454.4" width="82" height="5.2" fill="#ff0000"/>
<rect x="242.4" y="449.8" width="4.2" height="6.2" fill="#ff0000"/>
<circle cx="244.2" cy="309.6" r="3.4" fill="#ff0000"/>
<circle cx="222.8" cy="342.4" r="3.5" fill="#ff0000"/>
<circle cx="243.6" cy="374.4" r="3.3" fill="#ff0000"/>
<circle cx="265.4" cy="342.4" r="3.3" fill="#ff0000"/>
<rect x="266" y="332" width="3.6" height="11.5" fill="#ff0000"/>
<polygon points="224,319.5 229.6,317 231,322 226,326.5 223,325" fill="#ffff00"/>
<polyline points="226,352.5 229.5,352 232.5,355.5 233,359.5" fill="none" stroke="#ffff00" stroke-width="1"/>
<rect x="237.8" y="190.6" width="9.2" height="3.6" fill="#ff0000"/>
<rect x="243.4" y="190.6" width="3.6" height="10.6" fill="#ff0000"/>
<text x="245.8" y="196.6" font-size="5" fill="#ffffff" font-weight="bold" stroke="#fff" stroke-width="0.3">Ⅱ</text>
<rect x="261.8" y="294.2" width="7.6" height="3.6" fill="#ff0000"/>
<rect x="265.6" y="294.2" width="3.8" height="10.2" fill="#ff0000"/>
<text x="263.6" y="293.6" font-size="6.4" fill="#ffffff" textLength="5" lengthAdjust="spacingAndGlyphs" font-weight="bold" stroke="#fff" stroke-width="0.3">Ⅲ</text>
<rect x="108.2" y="334.6" width="3.8" height="9.4" fill="#ff0000"/>
<rect x="108.2" y="340.2" width="11.4" height="3.8" fill="#ff0000"/>
<rect x="102.8" y="336.6" width="1" height="6.2" fill="#ffffff"/>
<rect x="407.4" y="340.2" width="11.2" height="4.4" fill="#ff0000"/>
<rect x="414.8" y="335.6" width="3.8" height="9" fill="#ff0000"/>
<rect x="416.2" y="337" width="1" height="5.6" fill="#ffffff"/>
<rect x="237.8" y="495.2" width="8.8" height="3.6" fill="#ff0000"/>
<rect x="242.4" y="489.8" width="4.2" height="9" fill="#ff0000"/>
<text x="244.6" y="495.8" font-size="5" fill="#ffffff" font-weight="bold" stroke="#fff" stroke-width="0.3">Ⅱ</text>
<rect x="184.6" y="450" width="3.8" height="7.8" fill="#ff0000"/>
<rect x="184.6" y="454.4" width="10.6" height="3.4" fill="#ff0000"/>
<text x="177.4" y="457.2" font-size="6.6" fill="#ffffff" textLength="6" lengthAdjust="spacingAndGlyphs" font-weight="bold" stroke="#fff" stroke-width="0.3">Ⅳ</text>
<rect x="271.9" y="386" width="3.6" height="9.6" fill="#ff0000"/>
<rect x="267.8" y="391.9" width="7.7" height="3.7" fill="#ff0000"/>
<text x="270.8" y="398.8" font-size="6.4" fill="#ffffff" textLength="5" lengthAdjust="spacingAndGlyphs" font-weight="bold" stroke="#fff" stroke-width="0.3">Ⅳ</text>
<line x1="265.7" y1="370" x2="273.7" y2="384.4" stroke="#00ffff" stroke-width="1"/>
<rect x="369.6" y="391.8" width="3.7" height="11.8" fill="#ff0000"/>
<rect x="361.8" y="399.6" width="11.5" height="4" fill="#ff0000"/>
<text x="369" y="407" font-size="6.6" fill="#ffffff" textLength="5" lengthAdjust="spacingAndGlyphs" font-weight="bold" stroke="#fff" stroke-width="0.3">Ⅲ</text>
<rect x="242.6" y="392" width="6" height="2.2" fill="#ff0000"/>
<rect x="242.6" y="392" width="2.8" height="7.4" fill="#ff0000"/>
<line x1="244.4" y1="211" x2="244.4" y2="271" stroke="#ffffff" stroke-width="1.2"/>
<line x1="244.4" y1="277" x2="244.4" y2="284.6" stroke="#ffffff" stroke-width="1.2"/>
<line x1="244.4" y1="290" x2="244.4" y2="365" stroke="#ffffff" stroke-width="1.1" stroke-dasharray="12 3"/>
<line x1="244.4" y1="386" x2="244.4" y2="410" stroke="#ffffff" stroke-width="1.1" stroke-dasharray="9 3"/>
<line x1="244.4" y1="424" x2="244.4" y2="485" stroke="#ffffff" stroke-width="1.2"/>
<line x1="143.6" y1="342.4" x2="187.6" y2="342.4" stroke="#ffffff" stroke-width="1.1"/>
<line x1="195.4" y1="342.4" x2="203.4" y2="342.4" stroke="#ffffff" stroke-width="1.1"/>
<line x1="209.4" y1="342.4" x2="217" y2="342.4" stroke="#ffffff" stroke-width="1.1"/>
<line x1="227" y1="342.4" x2="256" y2="342.4" stroke="#ffffff" stroke-width="1.1"/>
<line x1="280" y1="342.4" x2="392" y2="342.4" stroke="#ffffff" stroke-width="1.1" stroke-dasharray="13 5"/>
<ellipse cx="175.2" cy="342.4" rx="1.6" ry="4.4" fill="none" stroke="#fff" stroke-width="1.2"/>
<line x1="175.2" y1="336.8" x2="175.2" y2="348.6" stroke="#ffffff" stroke-width="1.1"/>
<polyline points="200,214.4 242.6,214.4 243.8,211.4 246.8,218.6 248,215 289,215" fill="none" stroke="#ffff00" stroke-width="1.2"/>
<polyline points="199.4,476.6 242,476.6 243.4,473 246.6,480.4 247.8,476.6 289.4,476.6" fill="none" stroke="#ffff00" stroke-width="1.2"/>
<polyline points="139.5,287.8 139.5,338.1 143.8,337.6 134.99,343.2 139.5,343.2 139.5,394" fill="none" stroke="#ffff00" stroke-width="1.2" stroke-linejoin="round"/>
<polyline points="390.4,287.8 390.4,338.1 386.1,337.6 394.91,343.2 390.4,343.2 390.4,394" fill="none" stroke="#ffff00" stroke-width="1.2" stroke-linejoin="round"/>
<path d="M204.3,226.4H199.3V231.6H203.4M284.5,226.4H290.4V231.6H285.4" fill="none" stroke="#00ff00" stroke-width="0.9"/>
<line x1="204" y1="231.6" x2="285" y2="231.6" stroke="#00ff00" stroke-width="0.9" stroke-dasharray="5.4 1.6"/>
<line x1="203.2" y1="232" x2="203.2" y2="245" stroke="#00ff00" stroke-width="0.8" stroke-dasharray="5 2"/>
<line x1="285.8" y1="232" x2="285.8" y2="245" stroke="#00ff00" stroke-width="0.8" stroke-dasharray="5 2"/>
<path d="M203.8,452.8H199.4V458.6H203.8M285.8,452.8H290.6V458.6H285.8" fill="none" stroke="#00ff00" stroke-width="0.9"/>
<line x1="204" y1="452.8" x2="285.8" y2="452.8" stroke="#00ff00" stroke-width="0.9" stroke-dasharray="5.4 1.6"/>
<line x1="203" y1="440" x2="203" y2="452" stroke="#00ff00" stroke-width="0.8" stroke-dasharray="5 2"/>
<line x1="286.4" y1="440" x2="286.4" y2="452" stroke="#00ff00" stroke-width="0.8" stroke-dasharray="5 2"/>
<line x1="234.4" y1="275.4" x2="234.4" y2="302" stroke="#00d000" stroke-width="0.9" stroke-dasharray="4 1.3"/>
<line x1="254.8" y1="275.4" x2="254.8" y2="302" stroke="#00d000" stroke-width="0.9" stroke-dasharray="4 1.3"/>
<line x1="234.4" y1="386" x2="234.4" y2="410" stroke="#00d000" stroke-width="0.9" stroke-dasharray="4 1.3"/>
<line x1="254.6" y1="386" x2="254.6" y2="410" stroke="#00d000" stroke-width="0.9" stroke-dasharray="4 1.3"/>
<path d="M234.4,302H232V317M254.8,302H257.4V317M234.4,384V381H232V368M254.6,384V381H257V368" fill="none" stroke="#00c800" stroke-width="0.8" stroke-dasharray="3.4 1.2"/>
<line x1="163.6" y1="299.4" x2="163.6" y2="386" stroke="#00d000" stroke-width="0.9" stroke-dasharray="4 1.3"/>
<line x1="368.8" y1="299.4" x2="368.8" y2="386" stroke="#00d000" stroke-width="0.9" stroke-dasharray="4 1.3"/>
<line x1="272" y1="328.4" x2="299" y2="328.4" stroke="#00d000" stroke-width="0.9" stroke-dasharray="5 1.6"/>
<line x1="272" y1="356.4" x2="299" y2="356.4" stroke="#00d000" stroke-width="0.9" stroke-dasharray="5 1.6"/>
<path d="M272,328.4H268V324.5H263M272,356.4H268V360H263" fill="none" stroke="#00c800" stroke-width="0.8"/>
<line x1="186.4" y1="293.8" x2="222" y2="321.6" stroke="#00d000" stroke-width="0.8" stroke-dasharray="3 1.5"/>
<line x1="186.4" y1="391" x2="222" y2="363.2" stroke="#00d000" stroke-width="0.8" stroke-dasharray="3 1.5"/>
<line x1="303.6" y1="323.6" x2="341" y2="294.4" stroke="#00d000" stroke-width="0.8" stroke-dasharray="3 1.5"/>
<line x1="303.6" y1="361.2" x2="341" y2="390.4" stroke="#00d000" stroke-width="0.8" stroke-dasharray="3 1.5"/>
<rect x="206.4" y="218.14" width="9.51" height="4.06" fill="#ffff00"/>
<rect x="206.4" y="216.4" width="9.51" height="1" fill="#ffff00"/>
<rect x="215.41" y="218.49" width="7.39" height="1" fill="#ffff00"/>
<rect x="215.41" y="220.92" width="7.39" height="1" fill="#ffff00"/>
<rect x="272.89" y="218.14" width="9.51" height="4.06" fill="#ffff00"/>
<rect x="272.89" y="216.4" width="9.51" height="1" fill="#ffff00"/>
<rect x="266" y="218.49" width="7.39" height="1" fill="#ffff00"/>
<rect x="266" y="220.92" width="7.39" height="1" fill="#ffff00"/>
<rect x="206.4" y="242.34" width="9.28" height="4.06" fill="#ffff00"/>
<rect x="206.4" y="240.6" width="9.28" height="1" fill="#ffff00"/>
<rect x="215.18" y="242.69" width="7.22" height="1" fill="#ffff00"/>
<rect x="215.18" y="245.12" width="7.22" height="1" fill="#ffff00"/>
<rect x="273.12" y="242.34" width="9.28" height="4.06" fill="#ffff00"/>
<rect x="273.12" y="240.6" width="9.28" height="1" fill="#ffff00"/>
<rect x="266.4" y="242.69" width="7.22" height="1" fill="#ffff00"/>
<rect x="266.4" y="245.12" width="7.22" height="1" fill="#ffff00"/>
<rect x="208.6" y="234.2" width="0.9" height="3" fill="#ffff00"/>
<rect x="210.8" y="234.2" width="0.9" height="3" fill="#ffff00"/>
<rect x="273.6" y="234.2" width="0.9" height="3" fill="#ffff00"/>
<rect x="276" y="234.2" width="0.9" height="3" fill="#ffff00"/>
<rect x="212.6" y="428.58" width="9.86" height="4.62" fill="#ffff00"/>
<rect x="212.6" y="426.6" width="9.86" height="1" fill="#ffff00"/>
<rect x="221.96" y="428.98" width="7.64" height="1" fill="#ffff00"/>
<rect x="221.96" y="431.75" width="7.64" height="1" fill="#ffff00"/>
<rect x="267.14" y="428.58" width="9.86" height="4.62" fill="#ffff00"/>
<rect x="267.14" y="426.6" width="9.86" height="1" fill="#ffff00"/>
<rect x="260" y="428.98" width="7.64" height="1" fill="#ffff00"/>
<rect x="260" y="431.75" width="7.64" height="1" fill="#ffff00"/>
<rect x="206" y="442.98" width="9.63" height="4.62" fill="#ffff00"/>
<rect x="206" y="441" width="9.63" height="1" fill="#ffff00"/>
<rect x="215.13" y="443.38" width="7.47" height="1" fill="#ffff00"/>
<rect x="215.13" y="446.15" width="7.47" height="1" fill="#ffff00"/>
<rect x="273.97" y="442.98" width="9.63" height="4.62" fill="#ffff00"/>
<rect x="273.97" y="441" width="9.63" height="1" fill="#ffff00"/>
<rect x="267" y="443.38" width="7.47" height="1" fill="#ffff00"/>
<rect x="267" y="446.15" width="7.47" height="1" fill="#ffff00"/>
<rect x="206" y="466.38" width="9.28" height="3.22" fill="#ffff00"/>
<rect x="206" y="465" width="9.28" height="1" fill="#ffff00"/>
<rect x="214.78" y="466.66" width="7.22" height="1" fill="#ffff00"/>
<rect x="214.78" y="468.59" width="7.22" height="1" fill="#ffff00"/>
<rect x="273.72" y="466.38" width="9.28" height="3.22" fill="#ffff00"/>
<rect x="273.72" y="465" width="9.28" height="1" fill="#ffff00"/>
<rect x="267" y="466.66" width="7.22" height="1" fill="#ffff00"/>
<rect x="267" y="468.59" width="7.22" height="1" fill="#ffff00"/>
<rect x="213" y="460.4" width="0.9" height="3" fill="#ffff00"/>
<rect x="215.4" y="460.4" width="0.9" height="3" fill="#ffff00"/>
<rect x="269.6" y="460.4" width="0.9" height="3" fill="#ffff00"/>
<rect x="272" y="460.4" width="0.9" height="3" fill="#ffff00"/>
<rect x="147" y="294.2" width="3.6" height="9.51" fill="#ffff00"/>
<rect x="147" y="294.2" width="1.3" height="16.4" fill="#ffff00"/>
<rect x="149.3" y="294.2" width="1.3" height="16.4" fill="#ffff00"/>
<rect x="151.8" y="294.2" width="1.6" height="16.4" fill="#ffff00"/>
<rect x="175.2" y="294.2" width="3.6" height="9.51" fill="#ffff00"/>
<rect x="175.2" y="294.2" width="1.3" height="16.4" fill="#ffff00"/>
<rect x="177.5" y="294.2" width="1.3" height="16.4" fill="#ffff00"/>
<rect x="180" y="294.2" width="1.6" height="16.4" fill="#ffff00"/>
<rect x="197" y="308" width="3.4" height="10.09" fill="#ffff00"/>
<rect x="197" y="308" width="1.4" height="17.4" fill="#ffff00"/>
<rect x="199.6" y="310" width="1.3" height="15.4" fill="#ffff00"/>
<rect x="202" y="312.6" width="1.4" height="12.8" fill="#ffff00"/>
<rect x="147" y="381.09" width="3.6" height="9.51" fill="#ffff00"/>
<rect x="147" y="374.2" width="1.3" height="16.4" fill="#ffff00"/>
<rect x="149.3" y="374.2" width="1.3" height="16.4" fill="#ffff00"/>
<rect x="151.8" y="374.2" width="1.6" height="16.4" fill="#ffff00"/>
<rect x="175.2" y="381.09" width="3.6" height="9.51" fill="#ffff00"/>
<rect x="175.2" y="374.2" width="1.3" height="16.4" fill="#ffff00"/>
<rect x="177.5" y="374.2" width="1.3" height="16.4" fill="#ffff00"/>
<rect x="180" y="374.2" width="1.6" height="16.4" fill="#ffff00"/>
<rect x="197" y="366.91" width="3.4" height="10.09" fill="#ffff00"/>
<rect x="197" y="359.6" width="1.4" height="17.4" fill="#ffff00"/>
<rect x="199.6" y="359.6" width="1.3" height="15.4" fill="#ffff00"/>
<rect x="202" y="359.6" width="1.4" height="12.8" fill="#ffff00"/>
<rect x="360" y="294.2" width="1.4" height="16.4" fill="#ffff00"/>
<rect x="355.8" y="294.2" width="3.2" height="9.51" fill="#ffff00"/>
<rect x="357.8" y="294.2" width="1.2" height="16.4" fill="#ffff00"/>
<rect x="355.8" y="294.2" width="1.2" height="16.4" fill="#ffff00"/>
<rect x="353.4" y="294.2" width="1.4" height="16.4" fill="#ffff00"/>
<rect x="383.2" y="294.2" width="3.6" height="9.51" fill="#ffff00"/>
<rect x="385.5" y="294.2" width="1.3" height="16.4" fill="#ffff00"/>
<rect x="383.2" y="294.2" width="1.3" height="16.4" fill="#ffff00"/>
<rect x="380.4" y="294.2" width="1.6" height="16.4" fill="#ffff00"/>
<rect x="332.6" y="306" width="3.4" height="9.28" fill="#ffff00"/>
<rect x="334.6" y="306" width="1.4" height="16" fill="#ffff00"/>
<rect x="332.1" y="308" width="1.3" height="14" fill="#ffff00"/>
<rect x="329.6" y="310.6" width="1.4" height="11.4" fill="#ffff00"/>
<rect x="360" y="374.2" width="1.4" height="16.4" fill="#ffff00"/>
<rect x="355.8" y="381.09" width="3.2" height="9.51" fill="#ffff00"/>
<rect x="357.8" y="374.2" width="1.2" height="16.4" fill="#ffff00"/>
<rect x="355.8" y="374.2" width="1.2" height="16.4" fill="#ffff00"/>
<rect x="353.4" y="374.2" width="1.4" height="16.4" fill="#ffff00"/>
<rect x="383.2" y="381.09" width="3.6" height="9.51" fill="#ffff00"/>
<rect x="385.5" y="374.2" width="1.3" height="16.4" fill="#ffff00"/>
<rect x="383.2" y="374.2" width="1.3" height="16.4" fill="#ffff00"/>
<rect x="380.4" y="374.2" width="1.6" height="16.4" fill="#ffff00"/>
<rect x="332.6" y="372.72" width="3.4" height="9.28" fill="#ffff00"/>
<rect x="334.6" y="366" width="1.4" height="16" fill="#ffff00"/>
<rect x="332.1" y="366" width="1.3" height="14" fill="#ffff00"/>
<rect x="329.6" y="366" width="1.4" height="11.4" fill="#ffff00"/>
<rect x="141.2" y="302" width="2.2" height="0.9" fill="#ffff00"/>
<rect x="349.6" y="302" width="2.4" height="0.9" fill="#ffff00"/>
<rect x="141.2" y="306" width="2.2" height="0.9" fill="#ffff00"/>
<rect x="349.6" y="306" width="2.4" height="0.9" fill="#ffff00"/>
<rect x="141.2" y="376.6" width="2.2" height="0.9" fill="#ffff00"/>
<rect x="377" y="376.6" width="2.4" height="0.9" fill="#ffff00"/>
<rect x="141.2" y="380.6" width="2.2" height="0.9" fill="#ffff00"/>
<rect x="377" y="380.6" width="2.4" height="0.9" fill="#ffff00"/>
<line x1="206.4" y1="204.9" x2="283.6" y2="204.9" stroke="#00ffff" stroke-width="1.25"/>
<line x1="206.6" y1="202" x2="206.6" y2="210.4" stroke="#00ffff" stroke-width="1.25"/>
<line x1="234.3" y1="202" x2="234.3" y2="210.4" stroke="#00ffff" stroke-width="1.25"/>
<line x1="254.4" y1="202" x2="254.4" y2="210.4" stroke="#00ffff" stroke-width="1.25"/>
<line x1="283.4" y1="202" x2="283.4" y2="210.4" stroke="#00ffff" stroke-width="1.25"/>
<rect x="218" y="200.2" width="1" height="1" fill="#00ffff"/>
<rect x="266" y="200.2" width="1" height="1" fill="#00ffff"/>
<rect x="242" y="200" width="2.4" height="2" fill="#00ffff"/>
<line x1="205.6" y1="487.6" x2="283.6" y2="487.6" stroke="#00ffff" stroke-width="1.25"/>
<line x1="205.8" y1="483.6" x2="205.8" y2="489.6" stroke="#00ffff" stroke-width="1.25"/>
<line x1="234.4" y1="483.6" x2="234.4" y2="489.6" stroke="#00ffff" stroke-width="1.25"/>
<line x1="254.6" y1="483.6" x2="254.6" y2="489.6" stroke="#00ffff" stroke-width="1.25"/>
<line x1="283.4" y1="483.6" x2="283.4" y2="489.6" stroke="#00ffff" stroke-width="1.25"/>
<rect x="217" y="483.2" width="1" height="1" fill="#00ffff"/>
<rect x="266.6" y="483.2" width="1" height="1" fill="#00ffff"/>
<rect x="242.4" y="482.8" width="2.2" height="1.8" fill="#00ffff"/>
<line x1="126.8" y1="293" x2="126.8" y2="392" stroke="#00ffff" stroke-width="1.25"/>
<line x1="124" y1="294.4" x2="134.4" y2="294.4" stroke="#00ffff" stroke-width="1.25"/>
<line x1="124" y1="330.4" x2="134.4" y2="330.4" stroke="#00ffff" stroke-width="1.25"/>
<line x1="124" y1="354.6" x2="134.4" y2="354.6" stroke="#00ffff" stroke-width="1.25"/>
<line x1="124" y1="390.4" x2="134.4" y2="390.4" stroke="#00ffff" stroke-width="1.25"/>
<rect x="121" y="310.4" width="1.6" height="1.6" fill="#00ffff"/>
<rect x="121" y="340.2" width="1.6" height="1.6" fill="#00ffff"/>
<rect x="121" y="370.6" width="1.6" height="1.6" fill="#00ffff"/>
<line x1="406.2" y1="293" x2="406.2" y2="392" stroke="#00ffff" stroke-width="1.25"/>
<line x1="396" y1="294.8" x2="408.6" y2="294.8" stroke="#00ffff" stroke-width="1.25"/>
<line x1="396" y1="330.2" x2="408.6" y2="330.2" stroke="#00ffff" stroke-width="1.25"/>
<line x1="396" y1="354.6" x2="408.6" y2="354.6" stroke="#00ffff" stroke-width="1.25"/>
<line x1="396" y1="390.4" x2="408.6" y2="390.4" stroke="#00ffff" stroke-width="1.25"/>
<rect x="400.4" y="311.2" width="1.6" height="1.6" fill="#00ffff"/>
<rect x="400.4" y="339.8" width="1.6" height="1.6" fill="#00ffff"/>
<rect x="400.4" y="369.2" width="1.6" height="1.6" fill="#00ffff"/>
<line x1="206.4" y1="263.4" x2="219.8" y2="249.2" stroke="#00ffff" stroke-width="1"/>
<line x1="282.4" y1="263.4" x2="269" y2="249.2" stroke="#00ffff" stroke-width="1"/>
<rect x="202.4" y="258.6" width="1.6" height="1.4" fill="#00ffff"/>
<rect x="284.8" y="262" width="1.6" height="1.4" fill="#00ffff"/>
<rect x="212.8" y="256.4" width="1.2" height="1.2" fill="#00ffff"/>
<rect x="275.4" y="256.4" width="1.2" height="1.2" fill="#00ffff"/>
<line x1="202.6" y1="425.6" x2="215" y2="439.4" stroke="#00ffff" stroke-width="1"/>
<line x1="287.4" y1="424.4" x2="273.6" y2="438.6" stroke="#00ffff" stroke-width="1"/>
<rect x="280.6" y="420.6" width="1.6" height="1.4" fill="#00ffff"/>
<rect x="201.4" y="422.2" width="1.6" height="1.4" fill="#00ffff"/>
<line x1="204" y1="318.6" x2="214.6" y2="307.6" stroke="#00ffff" stroke-width="1"/>
<line x1="204.6" y1="366.6" x2="215.6" y2="377.4" stroke="#00ffff" stroke-width="1"/>
<rect x="208" y="305.4" width="2.6" height="1.2" fill="#00ffff"/>
<rect x="207.8" y="377" width="2.6" height="1.2" fill="#00ffff"/>
<line x1="314.6" y1="305.6" x2="325.6" y2="320.6" stroke="#00ffff" stroke-width="1"/>
<line x1="314.6" y1="378.4" x2="325.6" y2="365.4" stroke="#00ffff" stroke-width="1"/>
<rect x="313.6" y="305.6" width="2.4" height="1.4" fill="#00ffff"/>
<rect x="312" y="371.6" width="2" height="1.4" fill="#00ffff"/>
<line x1="236.4" y1="268.6" x2="257.6" y2="268.6" stroke="#00ffff" stroke-width="1.25"/>
<rect x="251.4" y="262.6" width="1.2" height="4" fill="#00ffff"/>
<rect x="254" y="261.6" width="1.4" height="5" fill="#00ffff"/>
<rect x="243" y="266.6" width="3" height="1.2" fill="#00ffff"/>
<line x1="225.4" y1="305" x2="263" y2="305" stroke="#00ffff" stroke-width="1.25"/>
<rect x="241.8" y="300.4" width="3" height="3.2" fill="#00ffff" opacity="0.85"/>
<line x1="225.6" y1="370.4" x2="243.6" y2="370.4" stroke="#00ffff" stroke-width="1.25"/>
<polyline points="225.6,367.4 225.6,372.6" fill="none" stroke="#00ffff" stroke-width="1"/>
<rect x="233.4" y="366" width="3" height="2.6" fill="#00ffff"/>
<line x1="299.2" y1="325" x2="299.2" y2="360" stroke="#00ffff" stroke-width="1.25"/>
<rect x="294" y="339" width="2.6" height="3.4" fill="#00ffff" opacity="0.85"/>
<line x1="261.2" y1="326.6" x2="261.2" y2="358.6" stroke="#00ffff" stroke-width="1"/>
<line x1="257" y1="347" x2="263" y2="336" stroke="#00ffff" stroke-width="0.9"/>
<line x1="226.6" y1="324.6" x2="241.6" y2="335.8" stroke="#00ffff" stroke-width="1"/>
<line x1="226" y1="318" x2="230.6" y2="337.6" stroke="#00ffff" stroke-width="0.9"/>
<line x1="254.6" y1="335.6" x2="265.4" y2="316.4" stroke="#00ffff" stroke-width="1"/>
<line x1="229.4" y1="358.6" x2="241.8" y2="349.4" stroke="#00ffff" stroke-width="1"/>
<line x1="255" y1="362" x2="264" y2="368" stroke="#00ffff" stroke-width="0.9"/>
<rect x="235.2" y="324.6" width="2" height="4" fill="#00ffff" opacity="0.8"/>
<rect x="232" y="347.4" width="4.6" height="1.6" fill="#00ffff" opacity="0.8"/>
<rect x="249" y="330.6" width="3" height="2.4" fill="#00ffff" opacity="0.8"/>
<line x1="243.6" y1="393" x2="243.6" y2="399.6" stroke="#00ffff" stroke-width="0.9"/>
<rect x="238" y="386.6" width="1.6" height="4" fill="#00ffff"/>
<rect x="243.4" y="387" width="1.2" height="4" fill="#00ffff"/>
<text x="225.8,239.2,254" y="506.6" font-size="7.4" fill="#fff" stroke="#fff" stroke-width="0.15">平面图</text>
<rect x="225" y="510" width="40.4" height="4" fill="#ff0000"/>
<rect x="226" y="510.6" width="38.4" height="2.6" fill="#00ff00"/>
<rect x="226" y="510.4" width="38.4" height="0.6" fill="#ffff00"/>
</g>
<g id="sec3">
<rect x="300.8" y="201.4" width="20.2" height="2.2" fill="#ff0000"/>
<rect x="320" y="200.6" width="67" height="4.6" fill="#ff0000"/>
<rect x="364.5" y="200.6" width="22.3" height="8" fill="#ff0000"/>
<rect x="409.6" y="201.4" width="14" height="2.2" fill="#ff0000"/>
<rect x="367" y="206" width="5.6" height="30" fill="#ff0000"/>
<rect x="383.2" y="176" width="27.4" height="8.6" fill="#ff0000"/>
<rect x="399.2" y="176" width="11.4" height="72.8" fill="#ff0000"/>
<rect x="369" y="235.3" width="41.6" height="13.5" fill="#ff0000"/>
<polygon points="333,212 341.6,204.4 374.2,235.4 370,249.2" fill="#ff0000"/>
<polygon points="333,212 337.5,208.6 374,243 370,249.2 367,247.6" fill="#ff0000"/>
<polyline points="338.6,211.4 370.4,242.4 404.2,242.4 404.2,184.6" fill="none" stroke="#ffff00" stroke-width="3.5"/>
<polyline points="342.6,208.6 372.6,238.8 401.6,238.8" fill="none" stroke="#00ff00" stroke-width="0.8" opacity="0.7"/>
<line x1="406.8" y1="182" x2="406.8" y2="240" stroke="#00ff00" stroke-width="0.8" opacity="0.8"/>
<polyline points="384,181.4 405,181.4" fill="none" stroke="#ff8a00" stroke-width="1.3"/>
<polyline points="409,178.6 409,246.4" fill="none" stroke="#ff6a00" stroke-width="0.8"/>
<line x1="366.6" y1="209.6" x2="366.6" y2="236" stroke="#00ff00" stroke-width="0.9" stroke-dasharray="5 1.6"/>
<polyline points="328.6,206.6 331,203 333.6,206.6 336,203 338.4,206.4" fill="none" stroke="#ffff00" stroke-width="1.1"/>
<polyline points="409.6,206 412,202.4 414.4,206 416.8,202.4 419.2,205.6" fill="none" stroke="#ffff00" stroke-width="1.1"/>
<polyline points="386.6,247.6 389.6,243.4 392.6,247.6 395.6,243.4 398.6,247.6 401.6,243.4 404.6,247.6" fill="none" stroke="#ffff00" stroke-width="1.1"/>
<polyline points="345.4,226.6 349,229 348,232 352,233.6 351,236.6" fill="none" stroke="#ffff00" stroke-width="1.1"/>
<rect x="403.2" y="196" width="1.4" height="1.6" fill="#202000"/>
<rect x="403.2" y="214" width="1.4" height="1.6" fill="#202000"/>
<rect x="403.2" y="228" width="1.4" height="1.6" fill="#202000"/>
<rect x="347.6" y="214.6" width="1.2" height="1.2" fill="#202000"/>
<rect x="356.4" y="223.4" width="1.2" height="1.2" fill="#202000"/>
<rect x="364.6" y="231.6" width="1.2" height="1.2" fill="#202000"/>
<line x1="302" y1="202.6" x2="302" y2="239.6" stroke="#00ffff" stroke-width="1.25"/>
<line x1="299" y1="238" x2="317" y2="238" stroke="#00ffff" stroke-width="1.25"/>
<line x1="306" y1="238.4" x2="306" y2="247.6" stroke="#00ffff" stroke-width="1.25"/>
<line x1="310" y1="247.6" x2="333" y2="247.6" stroke="#00ffff" stroke-width="1.25"/>
<line x1="325.6" y1="238" x2="325.6" y2="255" stroke="#00ffff" stroke-width="1.25"/>
<line x1="325.8" y1="207" x2="325.8" y2="240" stroke="#00ffff" stroke-width="1.25"/>
<line x1="322" y1="207.4" x2="332" y2="207.4" stroke="#00ffff" stroke-width="1.25"/>
<line x1="299" y1="242.6" x2="332" y2="242.6" stroke="#00ffff" stroke-width="1.25"/>
<rect x="296.6" y="218.4" width="1.6" height="1.6" fill="#00ffff"/>
<rect x="320.6" y="221" width="2.6" height="1.4" fill="#00ffff"/>
<rect x="319" y="236.4" width="2" height="1.6" fill="#00ffff"/>
<rect x="306.6" y="241" width="1.6" height="2.6" fill="#00ffff"/>
<rect x="320.4" y="241" width="1.8" height="2.6" fill="#00ffff"/>
<line x1="337.6" y1="225.6" x2="353.6" y2="208.4" stroke="#00ffff" stroke-width="1"/>
<rect x="334" y="220.4" width="1.6" height="1.6" fill="#00ffff"/>
<rect x="348" y="207" width="2" height="1.4" fill="#00ffff"/>
<line x1="377" y1="170" x2="409" y2="170" stroke="#00ffff" stroke-width="1.25"/>
<line x1="408.6" y1="166.6" x2="408.6" y2="176" stroke="#00ffff" stroke-width="1.25"/>
<line x1="388" y1="163" x2="397" y2="163" stroke="#00ffff" stroke-width="1"/>
<line x1="366" y1="194.4" x2="391" y2="194.4" stroke="#00ffff" stroke-width="1.25"/>
<line x1="366.6" y1="190" x2="366.6" y2="199" stroke="#00ffff" stroke-width="1.25"/>
<line x1="385.4" y1="170" x2="385.4" y2="250" stroke="#00ffff" stroke-width="1" stroke-dasharray="9 2"/>
<rect x="376.6" y="187.6" width="2.4" height="2.8" fill="#00ffff"/>
<line x1="420.2" y1="177.6" x2="420.2" y2="250" stroke="#00ffff" stroke-width="1.25"/>
<line x1="414" y1="183" x2="433.6" y2="183" stroke="#00ffff" stroke-width="1.25"/>
<line x1="414" y1="237.6" x2="433.6" y2="237.6" stroke="#00ffff" stroke-width="1.25"/>
<line x1="430.4" y1="183" x2="430.4" y2="237.6" stroke="#00ffff" stroke-width="1.25"/>
<line x1="414" y1="195.4" x2="423" y2="195.4" stroke="#00ffff" stroke-width="1.25"/>
<line x1="414" y1="243" x2="423" y2="243" stroke="#00ffff" stroke-width="1.25"/>
<rect x="413" y="188.6" width="1.6" height="3.4" fill="#00ffff"/>
<rect x="425.4" y="207" width="1.6" height="4.6" fill="#00ffff"/>
<rect x="413.4" y="218.4" width="1.6" height="1.6" fill="#00ffff"/>
<line x1="373.6" y1="262" x2="414.4" y2="262" stroke="#00ffff" stroke-width="1.25"/>
<line x1="373.8" y1="253.4" x2="373.8" y2="263.6" stroke="#00ffff" stroke-width="1.25"/>
<line x1="384.6" y1="253.4" x2="384.6" y2="263.6" stroke="#00ffff" stroke-width="1.25"/>
<line x1="402.4" y1="253.4" x2="402.4" y2="263.6" stroke="#00ffff" stroke-width="1.25"/>
<line x1="409.4" y1="253.4" x2="409.4" y2="263.6" stroke="#00ffff" stroke-width="1.25"/>
<rect x="376.4" y="257.4" width="3.2" height="2.6" fill="#00ffff" opacity="0.8"/>
<rect x="387" y="257.4" width="9.4" height="2.6" fill="#00ffff" opacity="0.6"/>
<rect x="403.4" y="255.4" width="2.2" height="4.6" fill="#00ffff" opacity="0.8"/>
<polyline points="407,187.4 420.3,166.5 452,166.5" fill="none" stroke="#00ffff" stroke-width="1.1"/>
<text x="420.3" y="166" font-size="6.4" fill="#ffffff" textLength="13.4" lengthAdjust="spacingAndGlyphs" font-weight="bold" stroke="#fff" stroke-width="0.3">4φ10</text>
<rect x="434.3" y="160.4" width="14.6" height="6.3" fill="#ffffff" opacity="0.93"/>
<text x="434.5" y="166" font-size="5.4" fill="#ffffff" textLength="14.2" lengthAdjust="spacingAndGlyphs" font-weight="bold" stroke="#fff" stroke-width="0.3">钢筋网</text>
<text x="421.7" y="172.8" font-size="6.2" fill="#ffffff" textLength="14.6" lengthAdjust="spacingAndGlyphs" stroke="#fff" stroke-width="0.3">L=40</text>
<text x="372.6" y="276.4" font-size="9" fill="#ffffff" textLength="37" lengthAdjust="spacingAndGlyphs" font-weight="bold" stroke="#fff" stroke-width="0.3">Ⅲ-Ⅲ 剖视图</text>
<rect x="371.8" y="278.4" width="40.2" height="4" fill="#ff0000"/>
<rect x="372.8" y="279" width="38.2" height="2.6" fill="#00ff00"/>
<rect x="372.8" y="278.8" width="38.2" height="0.6" fill="#ffff00"/>
</g>
<g id="sec4">
<rect x="305.6" y="438.7" width="52" height="3.9" fill="#ff0000"/>
<rect x="357.3" y="431.2" width="31.1" height="8.8" fill="#ff0000"/>
<rect x="361" y="439.6" width="3.8" height="28.4" fill="#ff0000"/>
<rect x="380.3" y="439.6" width="8.1" height="35.8" fill="#ff0000"/>
<rect x="361" y="467.3" width="27.4" height="3.9" fill="#ff0000"/>
<rect x="371" y="467.3" width="17.4" height="8.1" fill="#ff0000"/>
<rect x="388.2" y="431.6" width="29.2" height="3.8" fill="#ff0000"/>
<polygon points="331.44,442.84 361.44,470.84 363.76,468.36 333.76,440.36" fill="#ff0000"/>
<polygon points="324.8,444.11 358.8,480.11 362,477.09 328,441.09" fill="#ff0000"/>
<rect x="358.6" y="476.7" width="16.2" height="3.8" fill="#ff0000"/>
<polyline points="374,434.4 384.8,434.4 384.8,472" fill="none" stroke="#ff7a00" stroke-width="1"/>
<polyline points="334.6,445 362.4,472.6 371,472.6" fill="none" stroke="#00ff00" stroke-width="0.8" opacity="0.8"/>
<line x1="358.6" y1="443" x2="358.6" y2="462" stroke="#00ff00" stroke-width="0.9" stroke-dasharray="5 1.6"/>
<polyline points="321.6,442.8 324,439.6 326.4,442.8 328.8,439.6" fill="none" stroke="#ffff00" stroke-width="1.1"/>
<polyline points="388.6,434.6 391,431.4 393.4,434.6" fill="none" stroke="#ffff00" stroke-width="1.1"/>
<polyline points="399.6,435.4 402,432.4 404.4,435.4 406.8,432.4 409.2,435.4 411.6,432.4 413.6,435.4" fill="none" stroke="#ffff00" stroke-width="1.1"/>
<polyline points="334.6,458 338,460 337.4,463 341.4,464.6 341,468 345.4,469.4" fill="none" stroke="#ffff00" stroke-width="1.1"/>
<polyline points="307.7,432.4 307.7,443.9 312,443.4 303.19,448.6 307.7,448.6 307.7,473.6" fill="none" stroke="#ffff00" stroke-width="1.2" stroke-linejoin="round"/>
<polyline points="416.4,426.6 416.4,435.9 420.7,435.4 411.88,440.4 416.4,440.4 416.4,465.8" fill="none" stroke="#ffff00" stroke-width="1.2" stroke-linejoin="round"/>
<line x1="318.5" y1="440.4" x2="318.5" y2="487.4" stroke="#00ffff" stroke-width="1.25"/>
<line x1="316" y1="440.6" x2="325" y2="440.6" stroke="#00ffff" stroke-width="1.25"/>
<line x1="313.6" y1="471.6" x2="325" y2="471.6" stroke="#00ffff" stroke-width="1.25"/>
<line x1="313.6" y1="475.6" x2="325" y2="475.6" stroke="#00ffff" stroke-width="1.25"/>
<line x1="315.6" y1="482" x2="323.6" y2="482" stroke="#00ffff" stroke-width="1.25"/>
<rect x="312.4" y="453.4" width="1.6" height="1.6" fill="#00ffff"/>
<circle cx="313.6" cy="465.6" r="0.9" fill="none" stroke="#00ffff" stroke-width="0.7"/>
<rect x="312.4" y="474" width="1.6" height="3.4" fill="#00ffff"/>
<line x1="332" y1="460" x2="346.4" y2="442.6" stroke="#00ffff" stroke-width="1"/>
<rect x="341.2" y="442.6" width="1.8" height="1.6" fill="#00ffff"/>
<rect x="334.2" y="450.4" width="1.6" height="1.6" fill="#00ffff"/>
<line x1="358.4" y1="418.6" x2="386.6" y2="418.6" stroke="#00ffff" stroke-width="1.25"/>
<line x1="358.6" y1="417.6" x2="358.6" y2="431" stroke="#00ffff" stroke-width="1.25"/>
<line x1="386.4" y1="417.6" x2="386.4" y2="431" stroke="#00ffff" stroke-width="1.25"/>
<rect x="368.6" y="414.6" width="1.4" height="2.4" fill="#00ffff"/>
<rect x="371.4" y="414.6" width="1.4" height="2.4" fill="#00ffff"/>
<line x1="372.6" y1="420" x2="372.6" y2="481" stroke="#00ffff" stroke-width="1" stroke-dasharray="10 2"/>
<line x1="397" y1="426" x2="397" y2="444" stroke="#00ffff" stroke-width="1.25"/>
<line x1="392" y1="433.4" x2="400" y2="433.4" stroke="#00ffff" stroke-width="1.25"/>
<rect x="390.6" y="426" width="2" height="2" fill="#00ffff"/>
<line x1="408.6" y1="434" x2="408.6" y2="481.6" stroke="#00ffff" stroke-width="1.25"/>
<line x1="402" y1="467.4" x2="411.6" y2="467.4" stroke="#00ffff" stroke-width="1.25"/>
<line x1="402" y1="473.4" x2="411.6" y2="473.4" stroke="#00ffff" stroke-width="1.25"/>
<line x1="404" y1="477.6" x2="410" y2="477.6" stroke="#00ffff" stroke-width="1.25"/>
<rect x="402.6" y="449" width="1.8" height="2" fill="#00ffff"/>
<rect x="405.6" y="448.6" width="1.4" height="1.8" fill="#00ffff"/>
<line x1="362.6" y1="491" x2="394" y2="491" stroke="#00ffff" stroke-width="1.25"/>
<line x1="363" y1="483" x2="363" y2="492.6" stroke="#00ffff" stroke-width="1.25"/>
<line x1="372.4" y1="483" x2="372.4" y2="492.6" stroke="#00ffff" stroke-width="1.25"/>
<line x1="381.6" y1="483" x2="381.6" y2="492.6" stroke="#00ffff" stroke-width="1.25"/>
<line x1="386.4" y1="483" x2="386.4" y2="492.6" stroke="#00ffff" stroke-width="1.25"/>
<rect x="365.6" y="485.6" width="3" height="3.4" fill="#00ffff" opacity="0.8"/>
<rect x="374.6" y="486" width="5" height="3" fill="#00ffff" opacity="0.6"/>
<rect x="382.6" y="484.6" width="2" height="4.4" fill="#00ffff" opacity="0.8"/>
<text x="355.6" y="503.6" font-size="9" fill="#ffffff" textLength="37.4" lengthAdjust="spacingAndGlyphs" font-weight="bold" stroke="#fff" stroke-width="0.3">Ⅳ-Ⅳ 剖视图</text>
<rect x="353.6" y="505.4" width="43.4" height="3.8" fill="#ff0000"/>
<rect x="354.6" y="506" width="41.4" height="2.4" fill="#00ff00"/>
<rect x="354.6" y="505.8" width="41.4" height="0.6" fill="#ffff00"/>
</g>
<g id="detail">
<rect x="462.2" y="203.6" width="58.8" height="24.4" fill="#ff0000"/>
<line x1="465" y1="209.4" x2="520" y2="209.4" stroke="#000" stroke-width="1.1" stroke-dasharray="5.6 1.6" opacity="0.85"/>
<line x1="465" y1="214.4" x2="520" y2="214.4" stroke="#000" stroke-width="1.1" stroke-dasharray="5.6 1.6" opacity="0.85"/>
<line x1="465" y1="219.4" x2="520" y2="219.4" stroke="#000" stroke-width="1.1" stroke-dasharray="5.6 1.6" opacity="0.85"/>
<line x1="465" y1="224.2" x2="520" y2="224.2" stroke="#000" stroke-width="1.1" stroke-dasharray="5.6 1.6" opacity="0.85"/>
<line x1="462.2" y1="203.8" x2="521" y2="203.8" stroke="#ffff00" stroke-width="0.8" stroke-dasharray="6 2"/>
<line x1="462.2" y1="227.8" x2="521" y2="227.8" stroke="#ffff00" stroke-width="0.8"/>
<rect x="462" y="253.4" width="60" height="8.2" fill="#ff0000"/>
<line x1="462.6" y1="253.8" x2="521.4" y2="253.8" stroke="#ffff00" stroke-width="0.7" stroke-dasharray="6 3" opacity="0.6"/>
<line x1="462.6" y1="261.2" x2="521.4" y2="261.2" stroke="#ffff00" stroke-width="0.7" stroke-dasharray="6 3" opacity="0.6"/>
<line x1="455" y1="204.6" x2="455" y2="227.6" stroke="#00ffff" stroke-width="1.25"/>
<line x1="452.6" y1="204.6" x2="457.6" y2="204.6" stroke="#00ffff" stroke-width="1.25"/>
<line x1="452.6" y1="227.4" x2="457.6" y2="227.4" stroke="#00ffff" stroke-width="1.25"/>
<rect x="448.8" y="213.4" width="1.4" height="2.6" fill="#00ffff"/>
<line x1="462.6" y1="194" x2="462.6" y2="204" stroke="#00ffff" stroke-width="1.25"/>
<line x1="462.6" y1="196.2" x2="509.4" y2="196.2" stroke="#00ffff" stroke-width="1.25"/>
<polyline points="477,191.6 480.6,196.2 491.4,229.6" fill="none" stroke="#00ffff" stroke-width="1"/>
<line x1="491.4" y1="205" x2="491.4" y2="230" stroke="#00ffff" stroke-width="1.25"/>
<line x1="500.4" y1="198" x2="500.4" y2="226" stroke="#00ffff" stroke-width="1.25"/>
<polyline points="500.4,198.6 509,198.6" fill="none" stroke="#00ffff" stroke-width="1"/>
<line x1="499" y1="210" x2="542" y2="210" stroke="#00ffff" stroke-width="1.25"/>
<line x1="464" y1="214.6" x2="489" y2="214.6" stroke="#00ffff" stroke-width="1"/>
<rect x="473" y="212.6" width="5.6" height="1.2" fill="#00ffff" opacity="0.8"/>
<rect x="487" y="190.8" width="6" height="1.6" fill="#00ffff" opacity="0.8"/>
<rect x="464" y="186.4" width="6.4" height="4" fill="#00ffff" opacity="0.8"/>
<line x1="455.8" y1="249.6" x2="455.8" y2="269" stroke="#00ffff" stroke-width="1.25"/>
<line x1="453" y1="253.6" x2="458.6" y2="253.6" stroke="#00ffff" stroke-width="1.25"/>
<line x1="453" y1="261.6" x2="458.6" y2="261.6" stroke="#00ffff" stroke-width="1.25"/>
<rect x="449" y="256" width="1.4" height="2.6" fill="#00ffff"/>
<line x1="462.6" y1="262" x2="462.6" y2="267.6" stroke="#00ffff" stroke-width="1.25"/>
<line x1="520.4" y1="262" x2="520.4" y2="267.6" stroke="#00ffff" stroke-width="1.25"/>
<line x1="462.6" y1="264.4" x2="520.4" y2="264.4" stroke="#00ffff" stroke-width="1.25"/>
<line x1="464" y1="259.6" x2="545" y2="259.6" stroke="#00ffff" stroke-width="1.1"/>
<polyline points="500.4,261 500.4,250 533,250" fill="none" stroke="#00ffff" stroke-width="1"/>
<rect x="487" y="259.6" width="4" height="1.8" fill="#00ffff" opacity="0.8"/>
<circle cx="506.2" cy="195.2" r="2.2" fill="none" stroke="#00ffff" stroke-width="0.9"/>
<text x="511.6" y="197.6" font-size="5.6" fill="#ffffff" textLength="18.6" lengthAdjust="spacingAndGlyphs" font-weight="bold" stroke="#fff" stroke-width="0.3">4φ8@10</text>
<circle cx="528" cy="206.8" r="2.4" fill="none" stroke="#00ffff" stroke-width="0.9"/>
<text x="533" y="209.4" font-size="5.6" fill="#ffffff" textLength="9.6" lengthAdjust="spacingAndGlyphs" font-weight="bold" stroke="#fff" stroke-width="0.3">nφ6</text>
<circle cx="506.4" cy="246.6" r="2.6" fill="none" stroke="#00ffff" stroke-width="0.9"/>
<text x="505.2" y="248.6" font-size="4.6" fill="#ffffff" stroke="#fff" stroke-width="0.3">1</text>
<text x="511.4" y="249" font-size="5.8" fill="#ffffff" textLength="9.6" lengthAdjust="spacingAndGlyphs" font-weight="bold" stroke="#fff" stroke-width="0.3">2φ8</text>
<circle cx="527.8" cy="255.4" r="2.6" fill="none" stroke="#00ffff" stroke-width="0.9"/>
<text x="526.4" y="257.4" font-size="4.6" fill="#ffffff" stroke="#fff" stroke-width="0.3">2</text>
<text x="535" y="257.6" font-size="5.6" fill="#ffffff" textLength="8.6" lengthAdjust="spacingAndGlyphs" font-weight="bold" stroke="#fff" stroke-width="0.3">nφ6</text>
<text x="458.4" y="291.4" font-size="8.6" fill="#ffffff" textLength="42" lengthAdjust="spacingAndGlyphs" font-weight="bold" stroke="#fff" stroke-width="0.3">阳台 板配筋图</text>
<text x="502.4" y="291" font-size="6.6" fill="#00ff00" textLength="12.8" lengthAdjust="spacingAndGlyphs" font-weight="bold">1:20</text>
<rect x="458.4" y="293.2" width="62.8" height="3.8" fill="#ff0000"/>
<rect x="459.4" y="293.8" width="61" height="2.4" fill="#00ff00"/>
<rect x="459.4" y="293.6" width="61" height="0.6" fill="#ffff00"/>
</g>
<g id="tables">
<text x="637.6" y="222" font-size="9.6" fill="#ffffff" textLength="34.8" lengthAdjust="spacingAndGlyphs" stroke="#fff" stroke-width="0.4">各部尺寸表</text>
<rect x="555.6" y="226.6" width="204.6" height="90.2" fill="#00ff00"/>
<rect x="557.2" y="228.2" width="201.4" height="87" fill="#edede1"/>
<line x1="597.5" y1="228.2" x2="597.5" y2="315.2" stroke="#101010" stroke-width="1.05"/>
<line x1="637.5" y1="228.2" x2="637.5" y2="315.2" stroke="#101010" stroke-width="1.05"/>
<line x1="736.5" y1="228.2" x2="736.5" y2="315.2" stroke="#101010" stroke-width="1.05"/>
<line x1="581.5" y1="261.4" x2="581.5" y2="315.2" stroke="#101010" stroke-width="1.05"/>
<line x1="681.5" y1="236" x2="681.5" y2="315.2" stroke="#101010" stroke-width="1.05"/>
<line x1="557.2" y1="261.5" x2="681.5" y2="261.5" stroke="#101010" stroke-width="1.05"/>
<line x1="681.5" y1="261.5" x2="758.6" y2="261.5" stroke="#6e6e68" stroke-width="0.9"/>
<line x1="681.5" y1="277.5" x2="758.6" y2="277.5" stroke="#6e6e68" stroke-width="0.8"/>
<line x1="557.2" y1="300.5" x2="758.6" y2="300.5" stroke="#101010" stroke-width="1.05"/>
<line x1="567.2" y1="269.5" x2="758.6" y2="269.5" stroke="#101010" stroke-width="1.05"/>
<line x1="609.5" y1="236" x2="609.5" y2="315.2" stroke="#6e6e68" stroke-width="0.8"/>
<line x1="623.5" y1="236" x2="623.5" y2="315.2" stroke="#6e6e68" stroke-width="0.8"/>
<line x1="724.5" y1="228.2" x2="724.5" y2="315.2" stroke="#6e6e68" stroke-width="0.8"/>
<line x1="748.5" y1="228.2" x2="748.5" y2="315.2" stroke="#6e6e68" stroke-width="0.8"/>
<line x1="597.5" y1="236.5" x2="696" y2="236.5" stroke="#6e6e68" stroke-width="0.8"/>
<line x1="557.2" y1="309.5" x2="758.6" y2="309.5" stroke="#6e6e68" stroke-width="0.6"/>
<line x1="557.4" y1="228.6" x2="597" y2="252.8" stroke="#ff0000" stroke-width="1.2"/>
<line x1="557.4" y1="228.6" x2="595.4" y2="261" stroke="#ff0000" stroke-width="1.2"/>
<line x1="557.4" y1="228.6" x2="581.7" y2="261.4" stroke="#ff0000" stroke-width="1.2"/>
<line x1="557.4" y1="228.6" x2="567.4" y2="261" stroke="#ff0000" stroke-width="1.2"/>
<text x="579" y="234.6" font-size="4.8" fill="#ff0000" textLength="9.6" lengthAdjust="spacingAndGlyphs" font-weight="bold">尺寸</text>
<text x="586" y="254" font-size="5" fill="#ff0000" font-weight="bold" transform="rotate(30 586 254)">跨</text>
<text x="574" y="250" font-size="5" fill="#ff0000" font-weight="bold" transform="rotate(45 574 250)">径</text>
<text x="565.6" y="250.6" font-size="5" fill="#ff0000" font-weight="bold" transform="rotate(60 565.6 250.6)">孔</text>
<text x="558" y="245" font-size="5" fill="#ff0000" font-weight="bold" transform="rotate(80 558 245)">数</text>
<text x="558" y="254.6" font-size="5" fill="#ff0000" font-weight="bold" transform="rotate(85 558 254.6)">目</text>
<text x="578.6" y="258.6" font-size="4.6" fill="#ffffff" font-weight="bold" stroke="#fff" stroke-width="0.3" transform="rotate(-25 578.6 258.6)">Ho</text>
<text x="617.6" y="234.2" font-size="4.6" fill="#2a2f5a" text-anchor="middle" textLength="14" lengthAdjust="spacingAndGlyphs" opacity="0.8">盖板断面</text>
<text x="649.6" y="234.2" font-size="4.6" fill="#2a2f5a" text-anchor="middle" opacity="0.8">涵</text>
<text x="684" y="234.2" font-size="4.6" fill="#2a2f5a" text-anchor="middle" textLength="9.6" lengthAdjust="spacingAndGlyphs" opacity="0.8">台身</text>
<text x="603" y="244.2" font-size="4.4" fill="#2a2f5a" text-anchor="middle" opacity="0.62">板</text>
<text x="603" y="249" font-size="4.4" fill="#2a2f5a" text-anchor="middle" opacity="0.62">宽</text>
<text x="615.7" y="247.6" font-size="4.4" fill="#2a2f5a" text-anchor="middle" opacity="0.62">板高</text>
<text x="629.9" y="247.6" font-size="4.4" fill="#2a2f5a" text-anchor="middle" opacity="0.62">厚度</text>
<text x="648" y="247.6" font-size="4.4" fill="#2a2f5a" text-anchor="middle" opacity="0.62">直线</text>
<text x="659" y="244.2" font-size="4.4" fill="#2a2f5a" text-anchor="middle" opacity="0.62">上厚</text>
<text x="659" y="249" font-size="4.4" fill="#2a2f5a" text-anchor="middle" opacity="0.62">度</text>
<text x="673" y="244.2" font-size="4.4" fill="#2a2f5a" text-anchor="middle" opacity="0.62">下厚</text>
<text x="673" y="249" font-size="4.4" fill="#2a2f5a" text-anchor="middle" opacity="0.62">度</text>
<text x="689" y="247.6" font-size="4.4" fill="#2a2f5a" text-anchor="middle" opacity="0.62">基础</text>
<text x="702" y="240.6" font-size="4.4" fill="#2a2f5a" text-anchor="middle" opacity="0.62">洞口</text>
<text x="702" y="245.4" font-size="4.4" fill="#2a2f5a" text-anchor="middle" opacity="0.62">高</text>
<text x="716" y="240.6" font-size="4.4" fill="#2a2f5a" text-anchor="middle" opacity="0.62">洞口</text>
<text x="716" y="245.4" font-size="4.4" fill="#2a2f5a" text-anchor="middle" opacity="0.62">铺砌</text>
<text x="730" y="240.6" font-size="4.4" fill="#2a2f5a" text-anchor="middle" opacity="0.62">铺砌</text>
<text x="730" y="245.4" font-size="4.4" fill="#2a2f5a" text-anchor="middle" opacity="0.62">长</text>
<text x="742" y="239.4" font-size="4.4" fill="#2a2f5a" text-anchor="middle" opacity="0.62">八</text>
<text x="742" y="244.2" font-size="4.4" fill="#2a2f5a" text-anchor="middle" opacity="0.62">字</text>
<text x="742" y="249" font-size="4.4" fill="#2a2f5a" text-anchor="middle" opacity="0.62">墙</text>
<text x="754" y="240.6" font-size="4.4" fill="#2a2f5a" text-anchor="middle" opacity="0.62">备</text>
<text x="754" y="245.4" font-size="4.4" fill="#2a2f5a" text-anchor="middle" opacity="0.62">注</text>
<text x="603" y="259.6" font-size="4.6" fill="#2a2f5a" text-anchor="middle" opacity="0.7">a</text>
<text x="615.7" y="259.6" font-size="4.6" fill="#2a2f5a" text-anchor="middle" opacity="0.7">b</text>
<text x="629.9" y="259.6" font-size="4.6" fill="#2a2f5a" text-anchor="middle" opacity="0.7">t</text>
<text x="648" y="259.6" font-size="4.6" fill="#2a2f5a" text-anchor="middle" opacity="0.7">L1</text>
<text x="659" y="259.6" font-size="4.6" fill="#2a2f5a" text-anchor="middle" opacity="0.7">L2</text>
<text x="673" y="259.6" font-size="4.6" fill="#2a2f5a" text-anchor="middle" opacity="0.7">L3</text>
<text x="688" y="259.6" font-size="4.6" fill="#2a2f5a" text-anchor="middle" opacity="0.7">H1</text>
<text x="702" y="259.6" font-size="4.6" fill="#2a2f5a" text-anchor="middle" opacity="0.7">H2</text>
<text x="716" y="259.6" font-size="4.6" fill="#2a2f5a" text-anchor="middle" opacity="0.7">H3</text>
<text x="730" y="259.6" font-size="4.6" fill="#2a2f5a" text-anchor="middle" opacity="0.7">H4</text>
<text x="742" y="259.6" font-size="4.6" fill="#2a2f5a" text-anchor="middle" opacity="0.7">B</text>
<text x="573.6" y="267.5" font-size="4.7" fill="#2a2f5a" text-anchor="middle" opacity="0.85">Ⅰ</text>
<text x="589.6" y="267.5" font-size="4.7" fill="#2a2f5a" text-anchor="middle" opacity="0.85">1</text>
<text x="603" y="267.5" font-size="4.7" fill="#2a2f5a" text-anchor="middle" opacity="0.85">100</text>
<text x="615.7" y="267.5" font-size="4.7" fill="#2a2f5a" text-anchor="middle" opacity="0.85">45</text>
<text x="629.9" y="267.5" font-size="4.7" fill="#2a2f5a" text-anchor="middle" opacity="0.85">100</text>
<text x="644.4" y="267.5" font-size="4.7" fill="#2a2f5a" text-anchor="middle" opacity="0.85">90</text>
<text x="659" y="267.5" font-size="4.7" fill="#2a2f5a" text-anchor="middle" opacity="0.85">100</text>
<text x="673" y="267.5" font-size="4.7" fill="#2a2f5a" text-anchor="middle" opacity="0.85">100</text>
<text x="688" y="267.5" font-size="4.7" fill="#2a2f5a" text-anchor="middle" opacity="0.85">100</text>
<text x="702" y="267.5" font-size="4.7" fill="#2a2f5a" text-anchor="middle" opacity="0.85">200</text>
<text x="716" y="267.5" font-size="4.7" fill="#2a2f5a" text-anchor="middle" opacity="0.85">160</text>
<text x="730" y="267.5" font-size="4.7" fill="#2a2f5a" text-anchor="middle" opacity="0.85">140</text>
<text x="742" y="267.5" font-size="4.7" fill="#2a2f5a" text-anchor="middle" opacity="0.85">120</text>
<text x="573.6" y="275.3" font-size="4.7" fill="#2a2f5a" text-anchor="middle" opacity="0.85">Ⅱ</text>
<text x="589.6" y="275.3" font-size="4.7" fill="#2a2f5a" text-anchor="middle" opacity="0.85">1.5</text>
<text x="603" y="275.3" font-size="4.7" fill="#2a2f5a" text-anchor="middle" opacity="0.85">90</text>
<text x="615.7" y="275.3" font-size="4.7" fill="#2a2f5a" text-anchor="middle" opacity="0.85">35</text>
<text x="629.9" y="275.3" font-size="4.7" fill="#2a2f5a" text-anchor="middle" opacity="0.85">90</text>
<text x="644.4" y="275.3" font-size="4.7" fill="#2a2f5a" text-anchor="middle" opacity="0.85">90</text>
<text x="659" y="275.3" font-size="4.7" fill="#2a2f5a" text-anchor="middle" opacity="0.85">50</text>
<text x="673" y="275.3" font-size="4.7" fill="#2a2f5a" text-anchor="middle" opacity="0.85">90</text>
<text x="688" y="275.3" font-size="4.7" fill="#2a2f5a" text-anchor="middle" opacity="0.85">90</text>
<text x="702" y="275.3" font-size="4.7" fill="#2a2f5a" text-anchor="middle" opacity="0.85">180</text>
<text x="716" y="275.3" font-size="4.7" fill="#2a2f5a" text-anchor="middle" opacity="0.85">140</text>
<text x="730" y="275.3" font-size="4.7" fill="#2a2f5a" text-anchor="middle" opacity="0.85">120</text>
<text x="742" y="275.3" font-size="4.7" fill="#2a2f5a" text-anchor="middle" opacity="0.85">100</text>
<text x="573.6" y="282.9" font-size="4.7" fill="#2a2f5a" text-anchor="middle" opacity="0.85">Ⅲ</text>
<text x="589.6" y="282.9" font-size="4.7" fill="#2a2f5a" text-anchor="middle" opacity="0.85">1.6</text>
<text x="603" y="282.9" font-size="4.7" fill="#2a2f5a" text-anchor="middle" opacity="0.85">80</text>
<text x="615.7" y="282.9" font-size="4.7" fill="#2a2f5a" text-anchor="middle" opacity="0.85">30</text>
<text x="629.9" y="282.9" font-size="4.7" fill="#2a2f5a" text-anchor="middle" opacity="0.85">80</text>
<text x="644.4" y="282.9" font-size="4.7" fill="#2a2f5a" text-anchor="middle" opacity="0.85">80</text>
<text x="659" y="282.9" font-size="4.7" fill="#2a2f5a" text-anchor="middle" opacity="0.85">50</text>
<text x="673" y="282.9" font-size="4.7" fill="#2a2f5a" text-anchor="middle" opacity="0.85">80</text>
<text x="688" y="282.9" font-size="4.7" fill="#2a2f5a" text-anchor="middle" opacity="0.85">80</text>
<text x="702" y="282.9" font-size="4.7" fill="#2a2f5a" text-anchor="middle" opacity="0.85">160</text>
<text x="716" y="282.9" font-size="4.7" fill="#2a2f5a" text-anchor="middle" opacity="0.85">120</text>
<text x="730" y="282.9" font-size="4.7" fill="#2a2f5a" text-anchor="middle" opacity="0.85">100</text>
<text x="742" y="282.9" font-size="4.7" fill="#2a2f5a" text-anchor="middle" opacity="0.85">80</text>
<text x="573.6" y="290.6" font-size="4.7" fill="#2a2f5a" text-anchor="middle" opacity="0.85">Ⅳ</text>
<text x="589.6" y="290.6" font-size="4.7" fill="#2a2f5a" text-anchor="middle" opacity="0.85">1.4</text>
<text x="603" y="290.6" font-size="4.7" fill="#2a2f5a" text-anchor="middle" opacity="0.85">70</text>
<text x="615.7" y="290.6" font-size="4.7" fill="#2a2f5a" text-anchor="middle" opacity="0.85">30</text>
<text x="629.9" y="290.6" font-size="4.7" fill="#2a2f5a" text-anchor="middle" opacity="0.85">70</text>
<text x="644.4" y="290.6" font-size="4.7" fill="#2a2f5a" text-anchor="middle" opacity="0.85">70</text>
<text x="659" y="290.6" font-size="4.7" fill="#2a2f5a" text-anchor="middle" opacity="0.85">50</text>
<text x="673" y="290.6" font-size="4.7" fill="#2a2f5a" text-anchor="middle" opacity="0.85">70</text>
<text x="688" y="290.6" font-size="4.7" fill="#2a2f5a" text-anchor="middle" opacity="0.85">70</text>
<text x="702" y="290.6" font-size="4.7" fill="#2a2f5a" text-anchor="middle" opacity="0.85">150</text>
<text x="716" y="290.6" font-size="4.7" fill="#2a2f5a" text-anchor="middle" opacity="0.85">100</text>
<text x="730" y="290.6" font-size="4.7" fill="#2a2f5a" text-anchor="middle" opacity="0.85">80</text>
<text x="742" y="290.6" font-size="4.7" fill="#2a2f5a" text-anchor="middle" opacity="0.85">60</text>
<text x="573.6" y="298.2" font-size="4.7" fill="#2a2f5a" text-anchor="middle" opacity="0.85">Ⅴ</text>
<text x="589.6" y="298.2" font-size="4.7" fill="#2a2f5a" text-anchor="middle" opacity="0.85">1.2</text>
<text x="603" y="298.2" font-size="4.7" fill="#2a2f5a" text-anchor="middle" opacity="0.85">60</text>
<text x="615.7" y="298.2" font-size="4.7" fill="#2a2f5a" text-anchor="middle" opacity="0.85">30</text>
<text x="629.9" y="298.2" font-size="4.7" fill="#2a2f5a" text-anchor="middle" opacity="0.85">60</text>
<text x="644.4" y="298.2" font-size="4.7" fill="#2a2f5a" text-anchor="middle" opacity="0.85">60</text>
<text x="659" y="298.2" font-size="4.7" fill="#2a2f5a" text-anchor="middle" opacity="0.85">40</text>
<text x="673" y="298.2" font-size="4.7" fill="#2a2f5a" text-anchor="middle" opacity="0.85">60</text>
<text x="688" y="298.2" font-size="4.7" fill="#2a2f5a" text-anchor="middle" opacity="0.85">60</text>
<text x="702" y="298.2" font-size="4.7" fill="#2a2f5a" text-anchor="middle" opacity="0.85">90</text>
<text x="716" y="298.2" font-size="4.7" fill="#2a2f5a" text-anchor="middle" opacity="0.85">80</text>
<text x="730" y="298.2" font-size="4.7" fill="#2a2f5a" text-anchor="middle" opacity="0.85">60</text>
<text x="742" y="298.2" font-size="4.7" fill="#2a2f5a" text-anchor="middle" opacity="0.85">40</text>
<text x="589.6" y="306.6" font-size="4.7" fill="#2a2f5a" text-anchor="middle" opacity="0.85">1.2</text>
<text x="603" y="306.6" font-size="4.7" fill="#2a2f5a" text-anchor="middle" opacity="0.85">60</text>
<text x="615.7" y="306.6" font-size="4.7" fill="#2a2f5a" text-anchor="middle" opacity="0.85">30</text>
<text x="629.9" y="306.6" font-size="4.7" fill="#2a2f5a" text-anchor="middle" opacity="0.85">60</text>
<text x="673" y="306.6" font-size="4.7" fill="#2a2f5a" text-anchor="middle" opacity="0.85">60</text>
<text x="688" y="306.6" font-size="4.7" fill="#2a2f5a" text-anchor="middle" opacity="0.85">40</text>
<text x="702" y="306.6" font-size="4.7" fill="#2a2f5a" text-anchor="middle" opacity="0.85">90</text>
<text x="716" y="306.6" font-size="4.7" fill="#2a2f5a" text-anchor="middle" opacity="0.85">80</text>
<text x="730" y="306.6" font-size="4.7" fill="#2a2f5a" text-anchor="middle" opacity="0.85">60</text>
<text x="742" y="306.6" font-size="4.7" fill="#2a2f5a" text-anchor="middle" opacity="0.85">40</text>
<text x="589.6" y="314" font-size="4.7" fill="#2a2f5a" text-anchor="middle" opacity="0.85">1</text>
<text x="603" y="314" font-size="4.7" fill="#2a2f5a" text-anchor="middle" opacity="0.85">50</text>
<text x="615.7" y="314" font-size="4.7" fill="#2a2f5a" text-anchor="middle" opacity="0.85">25</text>
<text x="629.9" y="314" font-size="4.7" fill="#2a2f5a" text-anchor="middle" opacity="0.85">50</text>
<text x="673" y="314" font-size="4.7" fill="#2a2f5a" text-anchor="middle" opacity="0.85">50</text>
<text x="688" y="314" font-size="4.7" fill="#2a2f5a" text-anchor="middle" opacity="0.85">40</text>
<text x="702" y="314" font-size="4.7" fill="#2a2f5a" text-anchor="middle" opacity="0.85">80</text>
<text x="716" y="314" font-size="4.7" fill="#2a2f5a" text-anchor="middle" opacity="0.85">70</text>
<text x="742" y="314" font-size="4.7" fill="#2a2f5a" text-anchor="middle" opacity="0.85">30</text>
<text x="561.6" y="277.6" font-size="5" fill="#2a2f5a" text-anchor="middle" opacity="0.7">斗</text>
<text x="561.6" y="285.4" font-size="5" fill="#2a2f5a" text-anchor="middle" opacity="0.7">涵</text>
<text x="561.6" y="306.6" font-size="5" fill="#2a2f5a" text-anchor="middle" opacity="0.7">斗</text>
<text x="561.6" y="314" font-size="5" fill="#2a2f5a" text-anchor="middle" opacity="0.7">涵</text>
<rect x="725.2" y="309" width="11.4" height="7.2" fill="#ffff00"/>
<rect x="726.2" y="310" width="9.4" height="5.6" fill="#ff0000"/>
<text x="727.2" y="315.2" font-size="5.4" fill="#ffff00" font-weight="bold">10</text>
<text x="499.6" y="326" font-size="9.6" fill="#ffffff" textLength="21" lengthAdjust="spacingAndGlyphs" stroke="#fff" stroke-width="0.4">钢筋表</text>
<rect x="451.8" y="330" width="130.4" height="78" fill="#00ff00"/>
<rect x="453.8" y="332" width="126.4" height="74" fill="#edede1"/>
<line x1="499.5" y1="332" x2="499.5" y2="406" stroke="#101010" stroke-width="1.05"/>
<line x1="568.5" y1="332" x2="568.5" y2="406" stroke="#101010" stroke-width="1.05"/>
<line x1="499.5" y1="350.5" x2="568.5" y2="350.5" stroke="#101010" stroke-width="1.05"/>
<line x1="499.5" y1="369.5" x2="568.5" y2="369.5" stroke="#101010" stroke-width="1.05"/>
<line x1="499.5" y1="401.5" x2="568.5" y2="401.5" stroke="#101010" stroke-width="1.05"/>
<line x1="489.5" y1="332" x2="489.5" y2="406" stroke="#6e6e68" stroke-width="0.8"/>
<line x1="499.5" y1="337.5" x2="524" y2="337.5" stroke="#6e6e68" stroke-width="0.8"/>
<line x1="543" y1="337.5" x2="568.5" y2="337.5" stroke="#6e6e68" stroke-width="0.8"/>
<line x1="499.5" y1="382.5" x2="568.5" y2="382.5" stroke="#6e6e68" stroke-width="0.6"/>
<rect x="464" y="358.6" width="24.2" height="7" fill="#ff0000"/>
<rect x="466.8" y="384.6" width="18.2" height="11.2" fill="#ff0000"/>
<polygon points="480,384.6 484.6,383.4 485,386" fill="#ff0000"/>
<polygon points="470,358.6 475,357.4 476,358.6" fill="#ff0000"/>
<line x1="466" y1="386" x2="469" y2="388" stroke="#ff0000" stroke-width="1"/>
<text x="467.6" y="363" font-size="3.6" fill="#ffffff" stroke="#fff" stroke-width="0.3" opacity="0.8">φ8</text>
<text x="471.6" y="392" font-size="4" fill="#ffffff" stroke="#fff" stroke-width="0.3" opacity="0.8">φ6</text>
<text x="459" y="340" font-size="4" fill="#2a2f5a" text-anchor="middle" opacity="0.5">编号</text>
<text x="474" y="340" font-size="4" fill="#2a2f5a" text-anchor="middle" opacity="0.5">简 图</text>
<text x="494.4" y="336" font-size="4" fill="#2a2f5a" text-anchor="middle" opacity="0.5">直</text>
<text x="494.4" y="341.6" font-size="4" fill="#2a2f5a" text-anchor="middle" opacity="0.5">径</text>
<text x="511.6" y="336.6" font-size="4" fill="#2a2f5a" text-anchor="middle" textLength="13" lengthAdjust="spacingAndGlyphs" opacity="0.55">每根长</text>
<text x="530.6" y="339.6" font-size="4" fill="#2a2f5a" text-anchor="middle" opacity="0.55">根数</text>
<text x="539.4" y="336" font-size="4" fill="#2a2f5a" text-anchor="middle" opacity="0.5">总</text>
<text x="539.4" y="341.6" font-size="4" fill="#2a2f5a" text-anchor="middle" opacity="0.5">长</text>
<text x="556.6" y="336.6" font-size="4" fill="#2a2f5a" text-anchor="middle" opacity="0.6">重量</text>
<text x="510" y="343.6" font-size="4" fill="#2a2f5a" text-anchor="middle" opacity="0.5">L</text>
<text x="556.6" y="343.6" font-size="4" fill="#2a2f5a" text-anchor="middle" opacity="0.5">(kg)</text>
<text x="575" y="340" font-size="4" fill="#2a2f5a" text-anchor="middle" opacity="0.6">备注</text>
<text x="458.6" y="362.6" font-size="4.4" fill="#2a2f5a" text-anchor="middle" opacity="0.55">①</text>
<text x="458.6" y="393.6" font-size="4.4" fill="#2a2f5a" text-anchor="middle" opacity="0.55">②</text>
<text x="494.4" y="362.6" font-size="4.4" fill="#2a2f5a" text-anchor="middle" opacity="0.6">8</text>
<text x="494.4" y="393.6" font-size="4.4" fill="#2a2f5a" text-anchor="middle" opacity="0.6">6</text>
<text x="512" y="348.6" font-size="4.5" fill="#2a2f5a" text-anchor="middle" opacity="0.8">100</text>
<text x="528" y="348.6" font-size="4.5" fill="#2a2f5a" text-anchor="middle" opacity="0.8">10</text>
<text x="538.6" y="348.6" font-size="4.5" fill="#2a2f5a" text-anchor="middle" opacity="0.8">5</text>
<text x="556.4" y="348.6" font-size="4.5" fill="#2a2f5a" text-anchor="middle" opacity="0.8">2.0</text>
<text x="512" y="355.4" font-size="4.5" fill="#2a2f5a" text-anchor="middle" opacity="0.8">120</text>
<text x="528" y="355.4" font-size="4.5" fill="#2a2f5a" text-anchor="middle" opacity="0.8">140</text>
<text x="538.6" y="355.4" font-size="4.5" fill="#2a2f5a" text-anchor="middle" opacity="0.8">6</text>
<text x="556.4" y="355.4" font-size="4.5" fill="#2a2f5a" text-anchor="middle" opacity="0.8">4.40</text>
<text x="512" y="361.8" font-size="4.5" fill="#2a2f5a" text-anchor="middle" opacity="0.8">140</text>
<text x="528" y="361.8" font-size="4.5" fill="#2a2f5a" text-anchor="middle" opacity="0.8">120</text>
<text x="538.6" y="361.8" font-size="4.5" fill="#2a2f5a" text-anchor="middle" opacity="0.8">6</text>
<text x="556.4" y="361.8" font-size="4.5" fill="#2a2f5a" text-anchor="middle" opacity="0.8">3.60</text>
<text x="512" y="367.6" font-size="4.5" fill="#2a2f5a" text-anchor="middle" opacity="0.8">160</text>
<text x="528" y="367.6" font-size="4.5" fill="#2a2f5a" text-anchor="middle" opacity="0.8">10</text>
<text x="538.6" y="367.6" font-size="4.5" fill="#2a2f5a" text-anchor="middle" opacity="0.8">5</text>
<text x="556.4" y="367.6" font-size="4.5" fill="#2a2f5a" text-anchor="middle" opacity="0.8">3.50</text>
<text x="512" y="374.8" font-size="4.5" fill="#2a2f5a" text-anchor="middle" opacity="0.8">80</text>
<text x="528" y="374.8" font-size="4.5" fill="#2a2f5a" text-anchor="middle" opacity="0.8">40</text>
<text x="538.6" y="374.8" font-size="4.5" fill="#2a2f5a" text-anchor="middle" opacity="0.8">6</text>
<text x="556.4" y="374.8" font-size="4.5" fill="#2a2f5a" text-anchor="middle" opacity="0.8">2.10</text>
<text x="512" y="381" font-size="4.5" fill="#2a2f5a" text-anchor="middle" opacity="0.8">100</text>
<text x="528" y="381" font-size="4.5" fill="#2a2f5a" text-anchor="middle" opacity="0.8">50</text>
<text x="538.6" y="381" font-size="4.5" fill="#2a2f5a" text-anchor="middle" opacity="0.8">5</text>
<text x="556.4" y="381" font-size="4.5" fill="#2a2f5a" text-anchor="middle" opacity="0.8">1.20</text>
<text x="512" y="387" font-size="4.5" fill="#2a2f5a" text-anchor="middle" opacity="0.8">120</text>
<text x="528" y="387" font-size="4.5" fill="#2a2f5a" text-anchor="middle" opacity="0.8">70</text>
<text x="538.6" y="387" font-size="4.5" fill="#2a2f5a" text-anchor="middle" opacity="0.8">2</text>
<text x="556.4" y="387" font-size="4.5" fill="#2a2f5a" text-anchor="middle" opacity="0.8">1.70</text>
<text x="512" y="393.6" font-size="4.5" fill="#2a2f5a" text-anchor="middle" opacity="0.8">140</text>
<text x="528" y="393.6" font-size="4.5" fill="#2a2f5a" text-anchor="middle" opacity="0.8">40</text>
<text x="538.6" y="393.6" font-size="4.5" fill="#2a2f5a" text-anchor="middle" opacity="0.8">6</text>
<text x="556.4" y="393.6" font-size="4.5" fill="#2a2f5a" text-anchor="middle" opacity="0.8">1.20</text>
<text x="512" y="399.6" font-size="4.5" fill="#2a2f5a" text-anchor="middle" opacity="0.8">160</text>
<text x="528" y="399.6" font-size="4.5" fill="#2a2f5a" text-anchor="middle" opacity="0.8">50</text>
<text x="538.6" y="399.6" font-size="4.5" fill="#2a2f5a" text-anchor="middle" opacity="0.8">4</text>
<text x="556.4" y="399.6" font-size="4.5" fill="#2a2f5a" text-anchor="middle" opacity="0.8">1.0</text>
<text x="512" y="405.6" font-size="4.5" fill="#2a2f5a" text-anchor="middle" opacity="0.8">80</text>
<text x="528" y="405.6" font-size="4.5" fill="#2a2f5a" text-anchor="middle" opacity="0.8">70</text>
<text x="538.6" y="405.6" font-size="4.5" fill="#2a2f5a" text-anchor="middle" opacity="0.8">1</text>
<text x="556.4" y="405.6" font-size="4.5" fill="#2a2f5a" text-anchor="middle" opacity="0.8">0.75</text>
<text x="575" y="361.6" font-size="3.7" fill="#2a2f5a" text-anchor="middle" opacity="0.7">适用</text>
<text x="575" y="366.8" font-size="3.7" fill="#2a2f5a" text-anchor="middle" opacity="0.7">于各</text>
<text x="575" y="372" font-size="3.7" fill="#2a2f5a" text-anchor="middle" opacity="0.7">种跨</text>
<text x="575" y="377.2" font-size="3.7" fill="#2a2f5a" text-anchor="middle" opacity="0.7">径的</text>
<text x="575" y="382.4" font-size="3.7" fill="#2a2f5a" text-anchor="middle" opacity="0.7">盖板</text>
<text x="575" y="389.6" font-size="3.7" fill="#2a2f5a" text-anchor="middle" opacity="0.7">涵洞</text>
<text x="575" y="394.6" font-size="3.7" fill="#2a2f5a" text-anchor="middle" opacity="0.7">设计</text>
<text x="508.8" y="427.4" font-size="9.6" fill="#ffffff" textLength="27.8" lengthAdjust="spacingAndGlyphs" stroke="#fff" stroke-width="0.4">工程量表</text>
<rect x="489.8" y="430" width="74.6" height="77" fill="#00ff00"/>
<rect x="491.6" y="431.8" width="71" height="73.4" fill="#edede1"/>
<line x1="539.5" y1="431.8" x2="539.5" y2="505.2" stroke="#101010" stroke-width="1.05"/>
<line x1="500.5" y1="453.5" x2="500.5" y2="505.2" stroke="#101010" stroke-width="1.05"/>
<line x1="491.6" y1="453.5" x2="562.6" y2="453.5" stroke="#101010" stroke-width="1.05"/>
<line x1="491.6" y1="491.5" x2="562.6" y2="491.5" stroke="#101010" stroke-width="1.05"/>
<line x1="500.5" y1="469.5" x2="562.6" y2="469.5" stroke="#101010" stroke-width="1.05"/>
<line x1="500.5" y1="475.5" x2="562.6" y2="475.5" stroke="#101010" stroke-width="1.05"/>
<line x1="490.4" y1="431" x2="538.6" y2="446" stroke="#ff0000" stroke-width="1.2"/>
<line x1="490.4" y1="431" x2="520.4" y2="453.4" stroke="#ff0000" stroke-width="1.2"/>
<line x1="490.4" y1="431" x2="500.8" y2="453" stroke="#ff0000" stroke-width="1.2"/>
<line x1="490.4" y1="431" x2="493.6" y2="453" stroke="#ff0000" stroke-width="1.2"/>
<text x="523" y="437.6" font-size="5.6" fill="#ff0000" font-weight="bold" transform="rotate(-20 523 437.6)">Φ</text>
<text x="507" y="442" font-size="5.6" fill="#ff0000" font-weight="bold" transform="rotate(30 507 442)">Φ</text>
<text x="497" y="444" font-size="5" fill="#ff0000" font-weight="bold" transform="rotate(60 497 444)">Φ</text>
<text x="490.6" y="443" font-size="4.6" fill="#ff0000" font-weight="bold">尺</text>
<text x="490.6" y="449.6" font-size="4.6" fill="#ff0000" font-weight="bold">寸</text>
<text x="517.4" y="447.6" font-size="5.6" fill="#00ff00" textLength="11" lengthAdjust="spacingAndGlyphs" font-weight="bold">14d</text>
<text x="551" y="440.6" font-size="4.4" fill="#2a2f5a" text-anchor="middle" textLength="21" lengthAdjust="spacingAndGlyphs" opacity="0.75">钢筋 重</text>
<text x="552" y="451" font-size="4.4" fill="#2a2f5a" text-anchor="middle" opacity="0.6">(kg)</text>
<text x="510.6" y="459.4" font-size="4.6" fill="#2a2f5a" text-anchor="middle" opacity="0.8">Ⅰ</text>
<text x="551" y="459.4" font-size="4.6" fill="#2a2f5a" text-anchor="middle" opacity="0.8">1.5</text>
<text x="510.6" y="466.8" font-size="4.6" fill="#2a2f5a" text-anchor="middle" opacity="0.8">Ⅱ</text>
<text x="529.4" y="466.8" font-size="4.6" fill="#2a2f5a" text-anchor="middle" opacity="0.8">0.5</text>
<text x="551" y="466.8" font-size="4.6" fill="#2a2f5a" text-anchor="middle" opacity="0.8">1.36</text>
<text x="510.6" y="473.8" font-size="4.6" fill="#2a2f5a" text-anchor="middle" opacity="0.8">Ⅲ</text>
<text x="529.4" y="473.8" font-size="4.6" fill="#2a2f5a" text-anchor="middle" opacity="0.8">0.6</text>
<text x="551" y="473.8" font-size="4.6" fill="#2a2f5a" text-anchor="middle" opacity="0.8">1.24</text>
<text x="510.6" y="482.4" font-size="4.6" fill="#2a2f5a" text-anchor="middle" opacity="0.8">Ⅳ</text>
<text x="529.4" y="482.4" font-size="4.6" fill="#2a2f5a" text-anchor="middle" opacity="0.8">0.3</text>
<text x="551" y="482.4" font-size="4.6" fill="#2a2f5a" text-anchor="middle" opacity="0.8">1.06</text>
<text x="510.6" y="489" font-size="4.6" fill="#2a2f5a" text-anchor="middle" opacity="0.8">Ⅴ</text>
<text x="529.4" y="489" font-size="4.6" fill="#2a2f5a" text-anchor="middle" opacity="0.8">0.2</text>
<text x="551" y="489" font-size="4.6" fill="#2a2f5a" text-anchor="middle" opacity="0.8">0.77</text>
<text x="529.4" y="496.4" font-size="4.6" fill="#2a2f5a" text-anchor="middle" opacity="0.8">0.3</text>
<text x="551" y="496.4" font-size="4.6" fill="#2a2f5a" text-anchor="middle" opacity="0.8">0.42</text>
<text x="529.4" y="503.4" font-size="4.6" fill="#2a2f5a" text-anchor="middle" opacity="0.8">0.2</text>
<text x="551" y="503.4" font-size="4.6" fill="#2a2f5a" text-anchor="middle" opacity="0.8">0.34</text>
<text x="495.6" y="469.6" font-size="4.4" fill="#2a2f5a" text-anchor="middle" opacity="0.6">斗</text>
<text x="495.6" y="477" font-size="4.4" fill="#2a2f5a" text-anchor="middle" opacity="0.6">涵</text>
<text x="495.6" y="496.4" font-size="4.2" fill="#2a2f5a" text-anchor="middle" opacity="0.6">斗</text>
<text x="495.6" y="503" font-size="4.2" fill="#2a2f5a" text-anchor="middle" opacity="0.6">涵</text>
</g>
<g id="notes" font-weight="bold" stroke="#00ff00" stroke-width="0.25">
<text x="611.4" y="372.6" font-size="6.6" fill="#00ff00" textLength="10.6" lengthAdjust="spacingAndGlyphs">说明:</text>
<text x="619.6" y="383" font-size="6.6" fill="#00ff00" textLength="49" lengthAdjust="spacingAndGlyphs">1. 本图尺寸单位为cm</text>
<text x="619.6" y="394.2" font-size="6.6" fill="#00ff00" textLength="125.6" lengthAdjust="spacingAndGlyphs">2. 本图适用于填土高度H=0.5m, 荷载为汽-20级的涵洞.</text>
<text x="619.6" y="406.8" font-size="6.6" fill="#00ff00" textLength="76" lengthAdjust="spacingAndGlyphs">3. 钢筋 保护层厚度按规范执行.</text>
<text x="619.6" y="419.6" font-size="6.6" fill="#00ff00" textLength="98.6" lengthAdjust="spacingAndGlyphs">4. 预制盖板安装时, 应将板端用砂浆填实.</text>
<text x="619.6" y="432.6" font-size="6.6" fill="#00ff00" textLength="119.4" lengthAdjust="spacingAndGlyphs">5. 混凝土强度等级为C15, 盖板混凝土强度等级为C20.</text>
<text x="619.6" y="446.2" font-size="6.6" fill="#00ff00" textLength="144.4" lengthAdjust="spacingAndGlyphs">6. 工程数量表中, 每延米工程数量为一孔涵洞, 且钢筋用量未计损耗</text>
<text x="626" y="459.6" font-size="6.6" fill="#00ff00" textLength="69.6" lengthAdjust="spacingAndGlyphs">下部结构, 基础用M5浆砌片石.</text>
</g>
<g id="titleblock">
<path d="M618.6,516.5V491.4H777.4M618.6,503.7H777.4M636.2,503.7V516.5M733.2,503.7V516.5M751.2,503.7V516.5" fill="none" stroke="#fff" stroke-width="1.7"/>
<text x="632.8" y="500.6" font-size="6.4" fill="#ffffff" textLength="19.6" lengthAdjust="spacingAndGlyphs" font-weight="bold" stroke="#fff" stroke-width="0.3">第一部分</text>
<text x="660.4" y="500.6" font-size="6.4" fill="#ffffff" textLength="44.8" lengthAdjust="spacingAndGlyphs" font-weight="bold" stroke="#fff" stroke-width="0.3">桥梁与涵洞通用图</text>
<text x="731.4" y="500.6" font-size="6.4" fill="#ffffff" textLength="15.6" lengthAdjust="spacingAndGlyphs" font-weight="bold" stroke="#fff" stroke-width="0.3">第二章</text>
<text x="752.6" y="500.6" font-size="6.4" fill="#ffffff" textLength="12.6" lengthAdjust="spacingAndGlyphs" font-weight="bold" stroke="#fff" stroke-width="0.3">涵洞</text>
<text x="620.6" y="512.6" font-size="5.8" fill="#ffffff" textLength="10" lengthAdjust="spacingAndGlyphs" font-weight="bold" stroke="#fff" stroke-width="0.3">图名</text>
<text x="651.4" y="512.8" font-size="6.4" fill="#ffffff" textLength="62.6" lengthAdjust="spacingAndGlyphs" font-weight="bold" stroke="#fff" stroke-width="0.3">钢筋混凝土盖板涵洞设计图</text>
<text x="734.6" y="512.6" font-size="5.8" fill="#ffffff" textLength="10" lengthAdjust="spacingAndGlyphs" font-weight="bold" stroke="#fff" stroke-width="0.3">图号</text>
<text x="755.4" y="512.4" font-size="5.6" fill="#ffffff" textLength="13" lengthAdjust="spacingAndGlyphs" font-weight="bold" stroke="#fff" stroke-width="0.3">2-14</text>
</g>
</svg>
</body></html>
